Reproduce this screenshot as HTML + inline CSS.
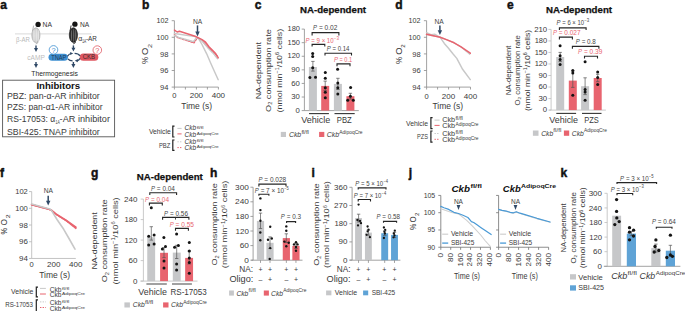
<!DOCTYPE html>
<html><head><meta charset="utf-8"><style>
html,body{margin:0;padding:0;background:#fff;}
body{width:685px;height:311px;overflow:hidden;}
svg{display:block;font-family:"Liberation Sans", sans-serif;}
</style></head><body>
<svg width="685" height="311" viewBox="0 0 685 311">
<rect width="685" height="311" fill="#fff"/>
<text x="0.3" y="8.8" font-size="12" fill="#111" font-weight="bold" stroke="#111" stroke-width="0.45">a</text>
<text x="141.9" y="8.8" font-size="12" fill="#111" font-weight="bold" stroke="#111" stroke-width="0.45">b</text>
<text x="254.7" y="9.3" font-size="12" fill="#111" font-weight="bold" stroke="#111" stroke-width="0.45">c</text>
<text x="395.2" y="8.9" font-size="12" fill="#111" font-weight="bold" stroke="#111" stroke-width="0.45">d</text>
<text x="506.9" y="9.1" font-size="12" fill="#111" font-weight="bold" stroke="#111" stroke-width="0.45">e</text>
<text x="0" y="176.7" font-size="12" fill="#111" font-weight="bold" stroke="#111" stroke-width="0.45">f</text>
<text x="91" y="176.6" font-size="12" fill="#111" font-weight="bold" stroke="#111" stroke-width="0.45">g</text>
<text x="210" y="177" font-size="12" fill="#111" font-weight="bold" stroke="#111" stroke-width="0.45">h</text>
<text x="311.6" y="177" font-size="12" fill="#111" font-weight="bold" stroke="#111" stroke-width="0.45">i</text>
<text x="408.8" y="176.8" font-size="12" fill="#111" font-weight="bold" stroke="#111" stroke-width="0.45">j</text>
<text x="560.6" y="176.8" font-size="12" fill="#111" font-weight="bold" stroke="#111" stroke-width="0.45">k</text>
<line x1="15" y1="33.9" x2="91.7" y2="33.9" stroke="#e1e1e1" stroke-width="1.3"/>
<path d="M33.6,25.6 L32.5,31.2" stroke="#a2a2a2" stroke-width="0.8" fill="none"/>
<ellipse cx="35.9" cy="35.2" rx="4.1" ry="7.4" fill="#cfcfcf" stroke="#a2a2a2" stroke-width="0.6"/>
<ellipse cx="34" cy="35.5" rx="0.55" ry="6" fill="#ececec"/>
<ellipse cx="36.2" cy="35.5" rx="0.55" ry="6.8" fill="#ececec"/>
<ellipse cx="38.2" cy="35.5" rx="0.55" ry="5.6" fill="#ececec"/>
<path d="M37.9,41.7 q0.6,1.6 -2.2,2.3" stroke="#a2a2a2" stroke-width="0.8" fill="none"/>
<circle cx="38.1" cy="24.4" r="2.65" fill="#151515"/>
<text x="42.6" y="27.1" font-size="6.4" fill="#333" textLength="9.4" lengthAdjust="spacingAndGlyphs">NA</text>
<text x="16.1" y="41.7" font-size="6.6" fill="#b9b9b9" textLength="13.9" lengthAdjust="spacingAndGlyphs">&#946;-AR</text>
<path d="M71.1,25.5 L70,31.1" stroke="#111" stroke-width="0.8" fill="none"/>
<ellipse cx="73.4" cy="35.1" rx="4.1" ry="7.4" fill="#2b2b2b" stroke="#111" stroke-width="0.6"/>
<ellipse cx="71.5" cy="35.4" rx="0.55" ry="6" fill="#6a6a6a"/>
<ellipse cx="73.7" cy="35.4" rx="0.55" ry="6.8" fill="#6a6a6a"/>
<ellipse cx="75.7" cy="35.4" rx="0.55" ry="5.6" fill="#6a6a6a"/>
<path d="M75.4,41.6 q0.6,1.6 -2.2,2.3" stroke="#111" stroke-width="0.8" fill="none"/>
<circle cx="74.9" cy="24.2" r="2.65" fill="#151515"/>
<text x="79.9" y="27.1" font-size="6.4" fill="#333" textLength="9.2" lengthAdjust="spacingAndGlyphs">NA</text>
<text x="78.3" y="41.2" font-size="6.6" fill="#333" textLength="4" lengthAdjust="spacingAndGlyphs">&#945;</text>
<text x="82.3" y="43.2" font-size="4.8" fill="#333" textLength="3.9" lengthAdjust="spacingAndGlyphs">1A</text>
<text x="86" y="41.2" font-size="6.6" fill="#333" textLength="10.9" lengthAdjust="spacingAndGlyphs">-AR</text>
<line x1="36" y1="45.4" x2="36" y2="48.6" stroke="#2f4866" stroke-width="1.4"/>
<path d="M34,48.1 L38,48.1 L36,52 Z" stroke="none" stroke-width="1" fill="#2f4866"/>
<line x1="36" y1="62" x2="36" y2="64.5" stroke="#2f4866" stroke-width="1.4"/>
<path d="M34,64 L38,64 L36,67.9 Z" stroke="none" stroke-width="1" fill="#2f4866"/>
<line x1="73.4" y1="45.4" x2="73.4" y2="48.2" stroke="#2f4866" stroke-width="1.4"/>
<path d="M71.4,47.7 L75.4,47.7 L73.4,51.6 Z" stroke="none" stroke-width="1" fill="#2f4866"/>
<line x1="73.4" y1="62" x2="73.4" y2="64.5" stroke="#2f4866" stroke-width="1.4"/>
<path d="M71.4,64 L75.4,64 L73.4,67.9 Z" stroke="none" stroke-width="1" fill="#2f4866"/>
<text x="27.3" y="60.1" font-size="6.4" fill="#bdbdbd" textLength="17.6" lengthAdjust="spacingAndGlyphs">cAMP</text>
<rect x="48.5" y="53.8" width="19.4" height="7" fill="#3d8fd1" rx="3.5"/>
<text x="51.3" y="59.6" font-size="6.3" fill="#233a55" textLength="15.1" lengthAdjust="spacingAndGlyphs">TNAP</text>
<circle cx="53.5" cy="49.9" r="4.3" fill="#fff" stroke="#3d8fd1" stroke-width="0.8"/>
<text x="53.5" y="52.6" font-size="7.4" fill="#3d8fd1" text-anchor="middle">?</text>
<rect x="79.7" y="53.4" width="18.6" height="7.4" fill="#e05862" rx="3.6"/>
<text x="82.8" y="59.4" font-size="6.3" fill="#3a2a2e" textLength="12.3" lengthAdjust="spacingAndGlyphs">CKB</text>
<circle cx="97.3" cy="50.1" r="4.3" fill="#fff" stroke="#e05862" stroke-width="0.8"/>
<text x="97.3" y="52.8" font-size="7.4" fill="#e05862" text-anchor="middle">?</text>
<path d="M67.4,56.4 Q69.0,53.7 71.0,53.5" stroke="#2f4866" stroke-width="1.2" fill="none"/>
<path d="M70.2,51.9 L73.2,53.5 L70.2,55.1 Z" stroke="none" stroke-width="1" fill="#2f4866"/>
<path d="M74.6,53.3 Q78.3,53.3 80.0,55.8" stroke="#2f4866" stroke-width="1.2" fill="none"/>
<path d="M80.1,58.4 Q78.8,60.6 76.9,60.7" stroke="#2f4866" stroke-width="1.2" fill="none"/>
<path d="M77.8,59.1 L74.8,60.7 L77.8,62.3 Z" stroke="none" stroke-width="1" fill="#2f4866"/>
<path d="M72.6,60.8 Q69.6,60.8 67.8,58.8" stroke="#2f4866" stroke-width="1.2" fill="none"/>
<text x="31.3" y="75.6" font-size="7.3" fill="#2a2a2a" textLength="46.6" lengthAdjust="spacingAndGlyphs">Thermogenesis</text>
<rect x="2.6" y="80.2" width="112" height="56.6" fill="none" stroke="#555" stroke-width="0.9"/>
<text x="36.4" y="89" font-size="9.3" fill="#111" font-weight="bold" textLength="43.8" lengthAdjust="spacingAndGlyphs">Inhibitors</text>
<text x="7" y="99.3" font-size="8.5" fill="#3a3a3a" textLength="92.8" lengthAdjust="spacingAndGlyphs">PBZ: pan-&#945;-AR inhibitor</text>
<text x="7" y="110.4" font-size="8.5" fill="#3a3a3a" textLength="95.6" lengthAdjust="spacingAndGlyphs">PZS: pan-&#945;1-AR inhibitor</text>
<text x="7" y="121.7" font-size="8.5" fill="#3a3a3a" textLength="48.2" lengthAdjust="spacingAndGlyphs">RS-17053: &#945;</text>
<text x="55.6" y="124.2" font-size="5.2" fill="#3a3a3a" textLength="4.2" lengthAdjust="spacingAndGlyphs">1A</text>
<text x="59.6" y="121.7" font-size="8.5" fill="#3a3a3a" textLength="50.4" lengthAdjust="spacingAndGlyphs">-AR inhibitor</text>
<text x="7" y="135" font-size="8.5" fill="#3a3a3a" textLength="92.7" lengthAdjust="spacingAndGlyphs">SBI-425: TNAP inhibitor</text>
<line x1="174.4" y1="20.7" x2="174.4" y2="87.1" stroke="#8a8a8a" stroke-width="0.8"/>
<line x1="174.4" y1="87.1" x2="218.4" y2="87.1" stroke="#8a8a8a" stroke-width="0.8"/>
<line x1="171.7" y1="20.7" x2="174.4" y2="20.7" stroke="#8a8a8a" stroke-width="0.8"/>
<text x="168.4" y="23.3" font-size="7.7" fill="#3a3a3a" text-anchor="end" textLength="12" lengthAdjust="spacingAndGlyphs">102</text>
<line x1="171.7" y1="37.3" x2="174.4" y2="37.3" stroke="#8a8a8a" stroke-width="0.8"/>
<text x="168.4" y="39.9" font-size="7.7" fill="#3a3a3a" text-anchor="end" textLength="12" lengthAdjust="spacingAndGlyphs">100</text>
<line x1="171.7" y1="53.9" x2="174.4" y2="53.9" stroke="#8a8a8a" stroke-width="0.8"/>
<text x="168.4" y="56.5" font-size="7.7" fill="#3a3a3a" text-anchor="end" textLength="8.4" lengthAdjust="spacingAndGlyphs">98</text>
<line x1="171.7" y1="70.5" x2="174.4" y2="70.5" stroke="#8a8a8a" stroke-width="0.8"/>
<text x="168.4" y="73.1" font-size="7.7" fill="#3a3a3a" text-anchor="end" textLength="8.4" lengthAdjust="spacingAndGlyphs">96</text>
<line x1="171.7" y1="87.1" x2="174.4" y2="87.1" stroke="#8a8a8a" stroke-width="0.8"/>
<text x="168.4" y="89.7" font-size="7.7" fill="#3a3a3a" text-anchor="end" textLength="8.4" lengthAdjust="spacingAndGlyphs">94</text>
<line x1="174.4" y1="87.1" x2="174.4" y2="89.5" stroke="#8a8a8a" stroke-width="0.8"/>
<line x1="185.4" y1="87.1" x2="185.4" y2="89.5" stroke="#8a8a8a" stroke-width="0.8"/>
<line x1="196.4" y1="87.1" x2="196.4" y2="89.5" stroke="#8a8a8a" stroke-width="0.8"/>
<line x1="207.4" y1="87.1" x2="207.4" y2="89.5" stroke="#8a8a8a" stroke-width="0.8"/>
<line x1="218.4" y1="87.1" x2="218.4" y2="89.5" stroke="#8a8a8a" stroke-width="0.8"/>
<text x="174.4" y="98.4" font-size="7.8" fill="#3a3a3a" text-anchor="middle" textLength="4.2" lengthAdjust="spacingAndGlyphs">0</text>
<text x="196.4" y="98.4" font-size="7.8" fill="#3a3a3a" text-anchor="middle" textLength="13.4" lengthAdjust="spacingAndGlyphs">200</text>
<text x="218.4" y="98.4" font-size="7.8" fill="#3a3a3a" text-anchor="middle" textLength="13.4" lengthAdjust="spacingAndGlyphs">400</text>
<text x="181.3" y="108.9" font-size="8.6" fill="#3a3a3a" textLength="30.8" lengthAdjust="spacingAndGlyphs">Time (s)</text>
<text font-size="9.3" fill="#3a3a3a" transform="translate(148.1 63.6) rotate(-90)" x="-0.3" y="0" textLength="7.1" lengthAdjust="spacingAndGlyphs">%</text>
<text font-size="9.3" fill="#3a3a3a" transform="translate(148.1 54.6) rotate(-90)" x="-0.3" y="0" textLength="7.3" lengthAdjust="spacingAndGlyphs">O</text>
<text font-size="5.77" fill="#3a3a3a" transform="translate(152 47.7) rotate(-90)" x="-0.3" y="0" textLength="4" lengthAdjust="spacingAndGlyphs">2</text>
<line x1="197.5" y1="25.4" x2="197.5" y2="32.1" stroke="#2f4866" stroke-width="1.5"/>
<path d="M195.3,31.6 L199.7,31.6 L197.5,36.4 Z" stroke="none" stroke-width="1" fill="#2f4866"/>
<text x="193" y="23.9" font-size="6.4" fill="#444" textLength="9.3" lengthAdjust="spacingAndGlyphs">NA</text>
<polyline points="174.5,33.5 195.1,36.6 198,37.6 202,44.5 206.7,53.8 210.2,62 214,70.5 218.2,79.7" fill="none" stroke="#c8c8c8" stroke-width="1.45" stroke-linejoin="round" stroke-linecap="round"/>
<polyline points="174.5,34.7 177.8,37.6 194,42.8 195.1,41 198,37.6 202,40.5 209,48 212.5,50.9 217.1,56" fill="none" stroke="#e8646f" stroke-width="1.4" stroke-linejoin="round" stroke-linecap="round" stroke-dasharray="1.6 1.4"/>
<polyline points="174.5,35.3 179,37.6 193.4,41.6 195.7,38.7 198,37.6 202,41 209,49.1 213.7,53.8 217.7,59" fill="none" stroke="#c8c8c8" stroke-width="1.4" stroke-linejoin="round" stroke-linecap="round" stroke-dasharray="1.8 1.0"/>
<polyline points="174.5,30.1 177.2,32 179.5,31.2 195.1,36.2 198,37.6 202.1,39.7 205.6,42.2 209,46.8 212,49.7 215.4,53.2 218.3,57.8" fill="none" stroke="#e8646f" stroke-width="1.5" stroke-linejoin="round" stroke-linecap="round"/>
<text x="148.9" y="133.9" font-size="6.6" fill="#3a3a3a" textLength="21.8" lengthAdjust="spacingAndGlyphs">Vehicle</text>
<text x="158.9" y="147.5" font-size="6.6" fill="#3a3a3a" textLength="11.3" lengthAdjust="spacingAndGlyphs">PBZ</text>
<path d="M174.5,126.2 H172.8 V137 H174.5" stroke="#222" stroke-width="1.2" fill="none"/>
<path d="M174.5,140 H172.8 V150.4 H174.5" stroke="#222" stroke-width="1.2" fill="none"/>
<line x1="177.4" y1="128.4" x2="181.6" y2="128.4" stroke="#c9c9c9" stroke-width="1"/>
<line x1="177.4" y1="133.9" x2="181.6" y2="133.9" stroke="#e8646f" stroke-width="1"/>
<line x1="177.4" y1="141.8" x2="181.6" y2="141.8" stroke="#c9c9c9" stroke-width="1" stroke-dasharray="1.4 1.2"/>
<line x1="177.4" y1="147.6" x2="181.6" y2="147.6" stroke="#e8646f" stroke-width="1" stroke-dasharray="1.4 1.2"/>
<text x="184.6" y="130.3" font-size="7.2" fill="#3a3a3a" font-style="italic" textLength="11.6" lengthAdjust="spacingAndGlyphs">Ckb</text>
<text x="196.7" y="128.6" font-size="4.4" fill="#3a3a3a" textLength="6.8" lengthAdjust="spacingAndGlyphs">fl/fl</text>
<text x="184.6" y="136.5" font-size="7.2" fill="#3a3a3a" font-style="italic" textLength="11.6" lengthAdjust="spacingAndGlyphs">Ckb</text>
<text x="196.7" y="134.8" font-size="4.4" fill="#3a3a3a" textLength="22" lengthAdjust="spacingAndGlyphs">AdipoqCre</text>
<text x="184.6" y="143.8" font-size="7.2" fill="#3a3a3a" font-style="italic" textLength="11.6" lengthAdjust="spacingAndGlyphs">Ckb</text>
<text x="196.7" y="142.1" font-size="4.4" fill="#3a3a3a" textLength="6.8" lengthAdjust="spacingAndGlyphs">fl/fl</text>
<text x="184.6" y="150" font-size="7.2" fill="#3a3a3a" font-style="italic" textLength="11.6" lengthAdjust="spacingAndGlyphs">Ckb</text>
<text x="196.7" y="148.3" font-size="4.4" fill="#3a3a3a" textLength="22" lengthAdjust="spacingAndGlyphs">AdipoqCre</text>
<line x1="426.6" y1="20.7" x2="426.6" y2="87.1" stroke="#8a8a8a" stroke-width="0.8"/>
<line x1="426.6" y1="87.1" x2="470.5" y2="87.1" stroke="#8a8a8a" stroke-width="0.8"/>
<line x1="423.9" y1="20.7" x2="426.6" y2="20.7" stroke="#8a8a8a" stroke-width="0.8"/>
<text x="420.6" y="23.3" font-size="7.7" fill="#3a3a3a" text-anchor="end" textLength="12" lengthAdjust="spacingAndGlyphs">102</text>
<line x1="423.9" y1="37.3" x2="426.6" y2="37.3" stroke="#8a8a8a" stroke-width="0.8"/>
<text x="420.6" y="39.9" font-size="7.7" fill="#3a3a3a" text-anchor="end" textLength="12" lengthAdjust="spacingAndGlyphs">100</text>
<line x1="423.9" y1="53.9" x2="426.6" y2="53.9" stroke="#8a8a8a" stroke-width="0.8"/>
<text x="420.6" y="56.5" font-size="7.7" fill="#3a3a3a" text-anchor="end" textLength="8.4" lengthAdjust="spacingAndGlyphs">98</text>
<line x1="423.9" y1="70.5" x2="426.6" y2="70.5" stroke="#8a8a8a" stroke-width="0.8"/>
<text x="420.6" y="73.1" font-size="7.7" fill="#3a3a3a" text-anchor="end" textLength="8.4" lengthAdjust="spacingAndGlyphs">96</text>
<line x1="423.9" y1="87.1" x2="426.6" y2="87.1" stroke="#8a8a8a" stroke-width="0.8"/>
<text x="420.6" y="89.7" font-size="7.7" fill="#3a3a3a" text-anchor="end" textLength="8.4" lengthAdjust="spacingAndGlyphs">94</text>
<line x1="426.6" y1="87.1" x2="426.6" y2="89.5" stroke="#8a8a8a" stroke-width="0.8"/>
<line x1="437.58" y1="87.1" x2="437.58" y2="89.5" stroke="#8a8a8a" stroke-width="0.8"/>
<line x1="448.55" y1="87.1" x2="448.55" y2="89.5" stroke="#8a8a8a" stroke-width="0.8"/>
<line x1="459.52" y1="87.1" x2="459.52" y2="89.5" stroke="#8a8a8a" stroke-width="0.8"/>
<line x1="470.5" y1="87.1" x2="470.5" y2="89.5" stroke="#8a8a8a" stroke-width="0.8"/>
<text x="426.6" y="98.9" font-size="7.8" fill="#3a3a3a" text-anchor="middle" textLength="4.2" lengthAdjust="spacingAndGlyphs">0</text>
<text x="448.55" y="98.9" font-size="7.8" fill="#3a3a3a" text-anchor="middle" textLength="13.4" lengthAdjust="spacingAndGlyphs">200</text>
<text x="470.5" y="98.9" font-size="7.8" fill="#3a3a3a" text-anchor="middle" textLength="13.4" lengthAdjust="spacingAndGlyphs">400</text>
<text x="432.4" y="108.9" font-size="8.6" fill="#3a3a3a" textLength="30.8" lengthAdjust="spacingAndGlyphs">Time (s)</text>
<text font-size="9.3" fill="#3a3a3a" transform="translate(401.9 63.6) rotate(-90)" x="-0.3" y="0" textLength="7.1" lengthAdjust="spacingAndGlyphs">%</text>
<text font-size="9.3" fill="#3a3a3a" transform="translate(401.9 54.4) rotate(-90)" x="-0.3" y="0" textLength="7.3" lengthAdjust="spacingAndGlyphs">O</text>
<text font-size="5.77" fill="#3a3a3a" transform="translate(405.4 47.4) rotate(-90)" x="-0.3" y="0" textLength="3.4" lengthAdjust="spacingAndGlyphs">2</text>
<line x1="439.9" y1="25.4" x2="439.9" y2="30.7" stroke="#2f4866" stroke-width="1.5"/>
<path d="M437.7,30.2 L442.1,30.2 L439.9,35 Z" stroke="none" stroke-width="1" fill="#2f4866"/>
<text x="434.4" y="23.9" font-size="6.4" fill="#444" textLength="9.3" lengthAdjust="spacingAndGlyphs">NA</text>
<polyline points="426.5,32.7 431,34.7 435,34.3 440.2,37.3 444.3,43.4 448.3,48 452.9,53.8 456.8,58.4 462.6,69.3 470.3,79.6" fill="none" stroke="#c8c8c8" stroke-width="1.45" stroke-linejoin="round" stroke-linecap="round"/>
<polyline points="426.5,34.3 440.2,37.3 447.1,39.9 454.1,42.8 461,46.8 470.3,54.6" fill="none" stroke="#c8c8c8" stroke-width="1.4" stroke-linejoin="round" stroke-linecap="round" stroke-dasharray="2.2 1.1"/>
<polyline points="426.5,34.3 440.2,37.3 447.1,39.9 454.1,42.8 461,46.8 470.3,53.2" fill="none" stroke="#e8646f" stroke-width="1.5" stroke-linejoin="round" stroke-linecap="round"/>
<text x="406" y="125.7" font-size="7.4" fill="#3a3a3a" textLength="22" lengthAdjust="spacingAndGlyphs">Vehicle</text>
<text x="417" y="138.6" font-size="7.4" fill="#3a3a3a" textLength="11" lengthAdjust="spacingAndGlyphs">PZS</text>
<path d="M432.6,117.7 H430.9 V128.7 H432.6" stroke="#222" stroke-width="1.2" fill="none"/>
<path d="M432.6,131 H430.9 V142.2 H432.6" stroke="#222" stroke-width="1.2" fill="none"/>
<line x1="434.5" y1="120.1" x2="439.6" y2="120.1" stroke="#c9c9c9" stroke-width="1"/>
<line x1="434.5" y1="125.4" x2="439.6" y2="125.4" stroke="#e8646f" stroke-width="1"/>
<line x1="434.5" y1="133.5" x2="439.6" y2="133.5" stroke="#c9c9c9" stroke-width="1" stroke-dasharray="1.4 1.2"/>
<line x1="434.5" y1="139.3" x2="439.6" y2="139.3" stroke="#e8646f" stroke-width="1" stroke-dasharray="1.4 1.2"/>
<text x="442.2" y="121.8" font-size="8" fill="#3a3a3a" textLength="12.8" lengthAdjust="spacingAndGlyphs">Ckb</text>
<text x="455.5" y="119.81" font-size="4.8" fill="#3a3a3a" textLength="7.4" lengthAdjust="spacingAndGlyphs">fl/fl</text>
<text x="442.2" y="128" font-size="8" fill="#3a3a3a" textLength="12.8" lengthAdjust="spacingAndGlyphs">Ckb</text>
<text x="455.5" y="126.01" font-size="4.8" fill="#3a3a3a" textLength="23" lengthAdjust="spacingAndGlyphs">AdipoqCre</text>
<text x="442.2" y="135.5" font-size="8" fill="#3a3a3a" textLength="12.8" lengthAdjust="spacingAndGlyphs">Ckb</text>
<text x="455.5" y="133.51" font-size="4.8" fill="#3a3a3a" textLength="7.4" lengthAdjust="spacingAndGlyphs">fl/fl</text>
<text x="442.2" y="142.2" font-size="8" fill="#3a3a3a" textLength="12.8" lengthAdjust="spacingAndGlyphs">Ckb</text>
<text x="455.5" y="140.21" font-size="4.8" fill="#3a3a3a" textLength="23" lengthAdjust="spacingAndGlyphs">AdipoqCre</text>
<line x1="31.7" y1="191.58" x2="31.7" y2="258.46" stroke="#b5b5b5" stroke-width="0.8"/>
<line x1="31.7" y1="258.46" x2="75.8" y2="258.46" stroke="#b5b5b5" stroke-width="0.8"/>
<line x1="29" y1="191.58" x2="31.7" y2="191.58" stroke="#b5b5b5" stroke-width="0.8"/>
<text x="27.8" y="194.18" font-size="7.7" fill="#3a3a3a" text-anchor="end" textLength="12.6" lengthAdjust="spacingAndGlyphs">102</text>
<line x1="29" y1="208.3" x2="31.7" y2="208.3" stroke="#b5b5b5" stroke-width="0.8"/>
<text x="27.8" y="210.9" font-size="7.7" fill="#3a3a3a" text-anchor="end" textLength="12.6" lengthAdjust="spacingAndGlyphs">100</text>
<line x1="29" y1="225.02" x2="31.7" y2="225.02" stroke="#b5b5b5" stroke-width="0.8"/>
<text x="27.8" y="227.62" font-size="7.7" fill="#3a3a3a" text-anchor="end" textLength="8.8" lengthAdjust="spacingAndGlyphs">98</text>
<line x1="29" y1="241.74" x2="31.7" y2="241.74" stroke="#b5b5b5" stroke-width="0.8"/>
<text x="27.8" y="244.34" font-size="7.7" fill="#3a3a3a" text-anchor="end" textLength="8.8" lengthAdjust="spacingAndGlyphs">96</text>
<line x1="29" y1="258.46" x2="31.7" y2="258.46" stroke="#b5b5b5" stroke-width="0.8"/>
<text x="27.8" y="261.06" font-size="7.7" fill="#3a3a3a" text-anchor="end" textLength="8.8" lengthAdjust="spacingAndGlyphs">94</text>
<text x="31.7" y="266.6" font-size="7.8" fill="#3a3a3a" text-anchor="middle" textLength="4.2" lengthAdjust="spacingAndGlyphs">0</text>
<text x="53.75" y="266.6" font-size="7.8" fill="#3a3a3a" text-anchor="middle" textLength="13.4" lengthAdjust="spacingAndGlyphs">200</text>
<text x="75.8" y="266.6" font-size="7.8" fill="#3a3a3a" text-anchor="middle" textLength="13.4" lengthAdjust="spacingAndGlyphs">400</text>
<text x="39.2" y="278" font-size="8.6" fill="#3a3a3a" textLength="30.8" lengthAdjust="spacingAndGlyphs">Time (s)</text>
<text font-size="9.3" fill="#3a3a3a" transform="translate(7.3 234.1) rotate(-90)" x="-0.3" y="0" textLength="6.5" lengthAdjust="spacingAndGlyphs">%</text>
<text font-size="9.3" fill="#3a3a3a" transform="translate(7.3 225.1) rotate(-90)" x="-0.3" y="0" textLength="6.5" lengthAdjust="spacingAndGlyphs">O</text>
<text font-size="5.77" fill="#3a3a3a" transform="translate(9.5 217.9) rotate(-90)" x="-0.3" y="0" textLength="3.8" lengthAdjust="spacingAndGlyphs">2</text>
<line x1="48.2" y1="195.7" x2="48.2" y2="201.3" stroke="#2f4866" stroke-width="1.5"/>
<path d="M46,200.8 L50.4,200.8 L48.2,205.6 Z" stroke="none" stroke-width="1" fill="#2f4866"/>
<text x="43.8" y="193.3" font-size="6.4" fill="#444" textLength="9.3" lengthAdjust="spacingAndGlyphs">NA</text>
<polyline points="31.6,204.6 49,209.3 51.6,210.4 56.8,214.8 66,220.5 75.9,228.4" fill="none" stroke="#e8646f" stroke-width="1.5" stroke-linejoin="round" stroke-linecap="round" stroke-dasharray="2.2 1.1"/>
<polyline points="31.6,204.6 49,209.3 51.6,210.4 56.8,214.6 66,220.2 75.9,227.2" fill="none" stroke="#e8646f" stroke-width="1.7" stroke-linejoin="round" stroke-linecap="round"/>
<polyline points="31.6,203.9 49.8,208.9 51.6,210.6 57,219.5 63.7,229.3 69,238.5 75,249.2" fill="none" stroke="#c8c8c8" stroke-width="1.6" stroke-linejoin="round" stroke-linecap="round"/>
<text x="11.1" y="293.5" font-size="6.4" fill="#3a3a3a" textLength="22.2" lengthAdjust="spacingAndGlyphs">Vehicle</text>
<text x="5.2" y="306.5" font-size="6.4" fill="#3a3a3a" textLength="27.7" lengthAdjust="spacingAndGlyphs">RS-17053</text>
<path d="M38,287.2 H36.3 V296.8 H38" stroke="#222" stroke-width="1.2" fill="none"/>
<path d="M38,299.8 H36.3 V311.5 H38" stroke="#222" stroke-width="1.2" fill="none"/>
<line x1="40" y1="288.4" x2="45.9" y2="288.4" stroke="#c9c9c9" stroke-width="1"/>
<line x1="40" y1="294" x2="45.9" y2="294" stroke="#e8646f" stroke-width="1"/>
<line x1="40" y1="301.9" x2="45.9" y2="301.9" stroke="#c9c9c9" stroke-width="1" stroke-dasharray="1.4 1.2"/>
<line x1="40" y1="307.5" x2="45.9" y2="307.5" stroke="#e8646f" stroke-width="1" stroke-dasharray="1.4 1.2"/>
<text x="49.8" y="291.6" font-size="7" fill="#3a3a3a" textLength="11.7" lengthAdjust="spacingAndGlyphs">Ckb</text>
<text x="62" y="289.97" font-size="4.3" fill="#3a3a3a" textLength="7.2" lengthAdjust="spacingAndGlyphs">fl/fl</text>
<text x="49.8" y="296.6" font-size="7" fill="#3a3a3a" textLength="11.7" lengthAdjust="spacingAndGlyphs">Ckb</text>
<text x="62" y="294.97" font-size="4.3" fill="#3a3a3a" textLength="23" lengthAdjust="spacingAndGlyphs">AdipoqCre</text>
<text x="49.8" y="305.1" font-size="7" fill="#3a3a3a" textLength="11.7" lengthAdjust="spacingAndGlyphs">Ckb</text>
<text x="62" y="303.47" font-size="4.3" fill="#3a3a3a" textLength="7.2" lengthAdjust="spacingAndGlyphs">fl/fl</text>
<text x="49.8" y="310.5" font-size="7" fill="#3a3a3a" textLength="11.7" lengthAdjust="spacingAndGlyphs">Ckb</text>
<text x="62" y="308.87" font-size="4.3" fill="#3a3a3a" textLength="23" lengthAdjust="spacingAndGlyphs">AdipoqCre</text>
<text x="300" y="13.1" font-size="9.2" fill="#111" font-weight="bold" textLength="66" lengthAdjust="spacingAndGlyphs" stroke="#111" stroke-width="0.25">NA-dependent</text>
<line x1="304.4" y1="29.1" x2="304.4" y2="110.6" stroke="#8a8a8a" stroke-width="0.8"/>
<line x1="301.7" y1="110.6" x2="304.4" y2="110.6" stroke="#8a8a8a" stroke-width="0.8"/>
<text x="299.9" y="112.7" font-size="7.8" fill="#3a3a3a" text-anchor="end" textLength="4.3" lengthAdjust="spacingAndGlyphs">0</text>
<line x1="301.7" y1="97.02" x2="304.4" y2="97.02" stroke="#8a8a8a" stroke-width="0.8"/>
<text x="299.9" y="99.12" font-size="7.8" fill="#3a3a3a" text-anchor="end" textLength="8.6" lengthAdjust="spacingAndGlyphs">30</text>
<line x1="301.7" y1="83.43" x2="304.4" y2="83.43" stroke="#8a8a8a" stroke-width="0.8"/>
<text x="299.9" y="85.53" font-size="7.8" fill="#3a3a3a" text-anchor="end" textLength="8.6" lengthAdjust="spacingAndGlyphs">60</text>
<line x1="301.7" y1="69.85" x2="304.4" y2="69.85" stroke="#8a8a8a" stroke-width="0.8"/>
<text x="299.9" y="71.95" font-size="7.8" fill="#3a3a3a" text-anchor="end" textLength="8.6" lengthAdjust="spacingAndGlyphs">90</text>
<line x1="301.7" y1="56.26" x2="304.4" y2="56.26" stroke="#8a8a8a" stroke-width="0.8"/>
<text x="299.9" y="58.36" font-size="7.8" fill="#3a3a3a" text-anchor="end" textLength="12.4" lengthAdjust="spacingAndGlyphs">120</text>
<line x1="301.7" y1="42.68" x2="304.4" y2="42.68" stroke="#8a8a8a" stroke-width="0.8"/>
<text x="299.9" y="44.78" font-size="7.8" fill="#3a3a3a" text-anchor="end" textLength="12.4" lengthAdjust="spacingAndGlyphs">150</text>
<line x1="301.7" y1="29.1" x2="304.4" y2="29.1" stroke="#8a8a8a" stroke-width="0.8"/>
<text x="299.9" y="31.2" font-size="7.8" fill="#3a3a3a" text-anchor="end" textLength="12.4" lengthAdjust="spacingAndGlyphs">180</text>
<line x1="304.4" y1="110.6" x2="358.8" y2="110.6" stroke="#8a8a8a" stroke-width="0.8"/>
<rect x="308.9" y="67" width="8" height="43.6" fill="#c6c7c9"/>
<rect x="321.2" y="85.9" width="8" height="24.7" fill="#e8646f"/>
<rect x="333.9" y="83.9" width="8" height="26.7" fill="#c6c7c9"/>
<rect x="346.4" y="96.2" width="8" height="14.4" fill="#e8646f"/>
<line x1="312.9" y1="61.4" x2="312.9" y2="71.1" stroke="#555" stroke-width="0.7"/>
<line x1="311.2" y1="61.4" x2="314.6" y2="61.4" stroke="#555" stroke-width="0.7"/>
<line x1="311.2" y1="71.1" x2="314.6" y2="71.1" stroke="#555" stroke-width="0.7"/>
<line x1="325.2" y1="81.1" x2="325.2" y2="90.6" stroke="#555" stroke-width="0.7"/>
<line x1="323.5" y1="81.1" x2="326.9" y2="81.1" stroke="#555" stroke-width="0.7"/>
<line x1="323.5" y1="90.6" x2="326.9" y2="90.6" stroke="#555" stroke-width="0.7"/>
<line x1="337.9" y1="78.3" x2="337.9" y2="89.5" stroke="#555" stroke-width="0.7"/>
<line x1="336.2" y1="78.3" x2="339.6" y2="78.3" stroke="#555" stroke-width="0.7"/>
<line x1="336.2" y1="89.5" x2="339.6" y2="89.5" stroke="#555" stroke-width="0.7"/>
<line x1="350.4" y1="93.3" x2="350.4" y2="99.1" stroke="#555" stroke-width="0.7"/>
<line x1="348.7" y1="93.3" x2="352.1" y2="93.3" stroke="#555" stroke-width="0.7"/>
<line x1="348.7" y1="99.1" x2="352.1" y2="99.1" stroke="#555" stroke-width="0.7"/>
<circle cx="312.7" cy="53.4" r="1.5" fill="#141414"/>
<circle cx="312.7" cy="56.5" r="1.5" fill="#141414"/>
<circle cx="312.7" cy="67.7" r="1.5" fill="#141414"/>
<circle cx="309.9" cy="77.6" r="1.5" fill="#141414"/>
<circle cx="315.5" cy="77.3" r="1.5" fill="#141414"/>
<circle cx="325.3" cy="72.4" r="1.5" fill="#141414"/>
<circle cx="325.3" cy="78.3" r="1.5" fill="#141414"/>
<circle cx="325.3" cy="87.7" r="1.5" fill="#141414"/>
<circle cx="325.3" cy="92.3" r="1.5" fill="#141414"/>
<circle cx="325.3" cy="97.8" r="1.5" fill="#141414"/>
<circle cx="337.6" cy="69.3" r="1.5" fill="#141414"/>
<circle cx="337.8" cy="83" r="1.5" fill="#141414"/>
<circle cx="337.8" cy="87.7" r="1.5" fill="#141414"/>
<circle cx="337.8" cy="94" r="1.5" fill="#141414"/>
<circle cx="350.6" cy="87.6" r="1.5" fill="#141414"/>
<circle cx="350.4" cy="96.2" r="1.5" fill="#141414"/>
<circle cx="347.7" cy="100.3" r="1.5" fill="#141414"/>
<circle cx="353.3" cy="100.3" r="1.5" fill="#141414"/>
<line x1="309" y1="113.6" x2="328.9" y2="113.6" stroke="#333" stroke-width="1.1"/>
<line x1="334.5" y1="113.6" x2="354.7" y2="113.6" stroke="#333" stroke-width="1.1"/>
<text x="301.2" y="123.4" font-size="8.4" fill="#3a3a3a" textLength="29.2" lengthAdjust="spacingAndGlyphs">Vehicle</text>
<text x="336.8" y="123.4" font-size="8.4" fill="#3a3a3a" textLength="14.9" lengthAdjust="spacingAndGlyphs">PBZ</text>
<rect x="280.8" y="131.9" width="5.2" height="5.1" fill="#c6c7c9"/>
<rect x="319.1" y="131.9" width="5.2" height="5.1" fill="#e8646f"/>
<text x="288.9" y="137" font-size="7.6" fill="#3a3a3a" font-style="italic" textLength="12.31" lengthAdjust="spacingAndGlyphs">Ckb</text>
<text x="301.41" y="133.7" font-size="5.02" fill="#3a3a3a" textLength="7.49" lengthAdjust="spacingAndGlyphs">fl/fl</text>
<text x="326.8" y="137" font-size="7.6" fill="#3a3a3a" font-style="italic" textLength="12.31" lengthAdjust="spacingAndGlyphs">Ckb</text>
<text x="339.31" y="133.7" font-size="5.02" fill="#3a3a3a" textLength="23.29" lengthAdjust="spacingAndGlyphs">AdipoqCre</text>
<text x="313" y="30.3" font-size="6.6" fill="#444" font-style="italic" textLength="3.96" lengthAdjust="spacingAndGlyphs">P</text>
<text x="317.09" y="30.3" font-size="6.6" fill="#444" textLength="20.31" lengthAdjust="spacingAndGlyphs">&#160;=&#160;0.02</text>
<path d="M312.1,35.4 V32.6 H338.9 V35.4" stroke="#262626" stroke-width="1.1" fill="none"/>
<text x="305.6" y="42.7" font-size="6.6" fill="#e8646f" font-style="italic" textLength="3.96" lengthAdjust="spacingAndGlyphs">P</text>
<text x="309.69" y="42.7" font-size="6.6" fill="#e8646f" textLength="23.91" lengthAdjust="spacingAndGlyphs">&#160;=&#160;9&#160;&#215;&#160;10</text>
<text x="333.8" y="39.5" font-size="4.49" fill="#e8646f" textLength="5.2" lengthAdjust="spacingAndGlyphs">&#8722;3</text>
<path d="M312.1,46.6 V44.4 H324.8 V46.6" stroke="#262626" stroke-width="1.1" fill="none"/>
<text x="326.8" y="50.9" font-size="6.6" fill="#444" font-style="italic" textLength="3.96" lengthAdjust="spacingAndGlyphs">P</text>
<text x="330.89" y="50.9" font-size="6.6" fill="#444" textLength="18.51" lengthAdjust="spacingAndGlyphs">&#160;=&#160;0.14</text>
<path d="M325,55.4 V53.2 H351.5 V55.4" stroke="#262626" stroke-width="1.1" fill="none"/>
<text x="333.9" y="61.8" font-size="6.6" fill="#e8646f" font-style="italic" textLength="3.96" lengthAdjust="spacingAndGlyphs">P</text>
<text x="337.99" y="61.8" font-size="6.6" fill="#e8646f" textLength="14.11" lengthAdjust="spacingAndGlyphs">&#160;=&#160;0.1</text>
<path d="M337,66.3 V63.9 H350 V66.3" stroke="#262626" stroke-width="1.1" fill="none"/>
<text x="260.9" y="70.6" font-size="7.9" fill="#3a3a3a" text-anchor="middle" transform="rotate(-90 260.9 70.6)" textLength="57.4" lengthAdjust="spacingAndGlyphs">NA-dependent</text>
<text font-size="7.9" fill="#3a3a3a" text-anchor="middle" transform="translate(270.8 70.6) rotate(-90)" textLength="82.7" lengthAdjust="spacingAndGlyphs">O<tspan font-size="4.9" dy="1.6">2</tspan><tspan dy="-1.6"> consumption rate</tspan></text>
<text font-size="8" fill="#3a3a3a" text-anchor="middle" transform="translate(281.9 70.6) rotate(-90)" textLength="83.6" lengthAdjust="spacingAndGlyphs">(nmol min<tspan font-size="4.96" dy="-2.6">&#8722;1</tspan><tspan dy="2.6">/10</tspan><tspan font-size="4.96" dy="-2.6">6</tspan><tspan dy="2.6"> cells)</tspan></text>
<text x="546" y="13.1" font-size="9.2" fill="#111" font-weight="bold" textLength="66" lengthAdjust="spacingAndGlyphs" stroke="#111" stroke-width="0.25">NA-dependent</text>
<line x1="551.1" y1="29.4" x2="551.1" y2="110.1" stroke="#bdbdbd" stroke-width="0.8"/>
<line x1="548.4" y1="110.1" x2="551.1" y2="110.1" stroke="#bdbdbd" stroke-width="0.8"/>
<text x="547.2" y="112.4" font-size="7.8" fill="#3a3a3a" text-anchor="end" textLength="4.35" lengthAdjust="spacingAndGlyphs">0</text>
<line x1="548.4" y1="98.57" x2="551.1" y2="98.57" stroke="#bdbdbd" stroke-width="0.8"/>
<text x="547.2" y="100.87" font-size="7.8" fill="#3a3a3a" text-anchor="end" textLength="8.7" lengthAdjust="spacingAndGlyphs">30</text>
<line x1="548.4" y1="87.04" x2="551.1" y2="87.04" stroke="#bdbdbd" stroke-width="0.8"/>
<text x="547.2" y="89.34" font-size="7.8" fill="#3a3a3a" text-anchor="end" textLength="8.7" lengthAdjust="spacingAndGlyphs">60</text>
<line x1="548.4" y1="75.51" x2="551.1" y2="75.51" stroke="#bdbdbd" stroke-width="0.8"/>
<text x="547.2" y="77.81" font-size="7.8" fill="#3a3a3a" text-anchor="end" textLength="8.7" lengthAdjust="spacingAndGlyphs">90</text>
<line x1="548.4" y1="63.98" x2="551.1" y2="63.98" stroke="#bdbdbd" stroke-width="0.8"/>
<text x="547.2" y="66.28" font-size="7.8" fill="#3a3a3a" text-anchor="end" textLength="12.55" lengthAdjust="spacingAndGlyphs">120</text>
<line x1="548.4" y1="52.45" x2="551.1" y2="52.45" stroke="#bdbdbd" stroke-width="0.8"/>
<text x="547.2" y="54.75" font-size="7.8" fill="#3a3a3a" text-anchor="end" textLength="12.55" lengthAdjust="spacingAndGlyphs">150</text>
<line x1="548.4" y1="40.93" x2="551.1" y2="40.93" stroke="#bdbdbd" stroke-width="0.8"/>
<text x="547.2" y="43.23" font-size="7.8" fill="#3a3a3a" text-anchor="end" textLength="12.55" lengthAdjust="spacingAndGlyphs">180</text>
<line x1="548.4" y1="29.4" x2="551.1" y2="29.4" stroke="#bdbdbd" stroke-width="0.8"/>
<text x="547.2" y="31.7" font-size="7.8" fill="#3a3a3a" text-anchor="end" textLength="13.05" lengthAdjust="spacingAndGlyphs">210</text>
<line x1="549.3" y1="110.1" x2="605.9" y2="110.1" stroke="#bdbdbd" stroke-width="0.8"/>
<rect x="556.2" y="57" width="8" height="53.1" fill="#c6c7c9"/>
<rect x="568.8" y="80.6" width="8" height="29.5" fill="#e8646f"/>
<rect x="581.1" y="86.2" width="8" height="23.9" fill="#c6c7c9"/>
<rect x="593.7" y="78" width="8" height="32.1" fill="#e8646f"/>
<line x1="560.2" y1="52.4" x2="560.2" y2="61.6" stroke="#555" stroke-width="0.7"/>
<line x1="558.5" y1="52.4" x2="561.9" y2="52.4" stroke="#555" stroke-width="0.7"/>
<line x1="558.5" y1="61.6" x2="561.9" y2="61.6" stroke="#555" stroke-width="0.7"/>
<line x1="572.8" y1="71" x2="572.8" y2="87.4" stroke="#555" stroke-width="0.7"/>
<line x1="571.1" y1="71" x2="574.5" y2="71" stroke="#555" stroke-width="0.7"/>
<line x1="571.1" y1="87.4" x2="574.5" y2="87.4" stroke="#555" stroke-width="0.7"/>
<line x1="585.1" y1="77.8" x2="585.1" y2="94.6" stroke="#555" stroke-width="0.7"/>
<line x1="583.4" y1="77.8" x2="586.8" y2="77.8" stroke="#555" stroke-width="0.7"/>
<line x1="583.4" y1="94.6" x2="586.8" y2="94.6" stroke="#555" stroke-width="0.7"/>
<line x1="597.7" y1="74.3" x2="597.7" y2="81.7" stroke="#555" stroke-width="0.7"/>
<line x1="596" y1="74.3" x2="599.4" y2="74.3" stroke="#555" stroke-width="0.7"/>
<line x1="596" y1="81.7" x2="599.4" y2="81.7" stroke="#555" stroke-width="0.7"/>
<circle cx="560.1" cy="45.7" r="1.5" fill="#141414"/>
<circle cx="560.1" cy="55.8" r="1.5" fill="#141414"/>
<circle cx="560.1" cy="59.6" r="1.5" fill="#141414"/>
<circle cx="560.1" cy="64.6" r="1.5" fill="#141414"/>
<circle cx="572.8" cy="70.5" r="1.5" fill="#141414"/>
<circle cx="572.8" cy="73" r="1.5" fill="#141414"/>
<circle cx="572.8" cy="95.3" r="1.5" fill="#141414"/>
<circle cx="585.1" cy="61.8" r="1.5" fill="#141414"/>
<circle cx="585.1" cy="89.5" r="1.5" fill="#141414"/>
<circle cx="585.1" cy="92" r="1.5" fill="#141414"/>
<circle cx="585.1" cy="100.3" r="1.5" fill="#141414"/>
<circle cx="597.7" cy="72" r="1.5" fill="#141414"/>
<circle cx="597.7" cy="77.5" r="1.5" fill="#141414"/>
<circle cx="597.7" cy="84.6" r="1.5" fill="#141414"/>
<line x1="556.3" y1="113.4" x2="576.1" y2="113.4" stroke="#333" stroke-width="1.1"/>
<line x1="582" y1="113.4" x2="601.5" y2="113.4" stroke="#333" stroke-width="1.1"/>
<text x="549.2" y="123.4" font-size="8.6" fill="#3a3a3a" textLength="28.9" lengthAdjust="spacingAndGlyphs">Vehicle</text>
<text x="584.2" y="123.4" font-size="8.6" fill="#3a3a3a" textLength="14.6" lengthAdjust="spacingAndGlyphs">PZS</text>
<rect x="532.9" y="130.5" width="5.6" height="5.3" fill="#c6c7c9"/>
<rect x="563.9" y="130.5" width="5.3" height="5.3" fill="#e8646f"/>
<text x="541.2" y="135.6" font-size="7.4" fill="#3a3a3a" font-style="italic" textLength="11.99" lengthAdjust="spacingAndGlyphs">Ckb</text>
<text x="553.39" y="132.3" font-size="4.88" fill="#3a3a3a" textLength="7.91" lengthAdjust="spacingAndGlyphs">fl/fl</text>
<text x="571.8" y="135.6" font-size="7.4" fill="#3a3a3a" font-style="italic" textLength="11.99" lengthAdjust="spacingAndGlyphs">Ckb</text>
<text x="583.99" y="132.3" font-size="4.88" fill="#3a3a3a" textLength="22.91" lengthAdjust="spacingAndGlyphs">AdipoqCre</text>
<text x="556.6" y="25.3" font-size="6.6" fill="#444" font-style="italic" textLength="3.96" lengthAdjust="spacingAndGlyphs">P</text>
<text x="560.69" y="25.3" font-size="6.6" fill="#444" textLength="23.31" lengthAdjust="spacingAndGlyphs">&#160;=&#160;6&#160;&#215;&#160;10</text>
<text x="584.2" y="22.1" font-size="4.49" fill="#444" textLength="5" lengthAdjust="spacingAndGlyphs">&#8722;3</text>
<path d="M559.4,29.9 V27.9 H586.1 V29.9" stroke="#262626" stroke-width="1.1" fill="none"/>
<text x="552.9" y="35.1" font-size="6.6" fill="#e8646f" font-style="italic" textLength="3.96" lengthAdjust="spacingAndGlyphs">P</text>
<text x="556.99" y="35.1" font-size="6.6" fill="#e8646f" textLength="23.51" lengthAdjust="spacingAndGlyphs">&#160;=&#160;0.027</text>
<path d="M559.4,39.5 V37.1 H572.4 V39.5" stroke="#262626" stroke-width="1.1" fill="none"/>
<text x="575.8" y="43.8" font-size="6.6" fill="#444" font-style="italic" textLength="3.96" lengthAdjust="spacingAndGlyphs">P</text>
<text x="579.89" y="43.8" font-size="6.6" fill="#444" textLength="16.01" lengthAdjust="spacingAndGlyphs">&#160;=&#160;0.8</text>
<path d="M572.4,48.8 V46.4 H598.9 V48.8" stroke="#262626" stroke-width="1.1" fill="none"/>
<text x="578.1" y="54.4" font-size="6.6" fill="#e8646f" font-style="italic" textLength="3.96" lengthAdjust="spacingAndGlyphs">P</text>
<text x="582.19" y="54.4" font-size="6.6" fill="#e8646f" textLength="20.11" lengthAdjust="spacingAndGlyphs">&#160;=&#160;0.39</text>
<path d="M584.5,58.5 V56.3 H597.5 V58.5" stroke="#262626" stroke-width="1.1" fill="none"/>
<text x="511" y="70.4" font-size="6.9" fill="#3a3a3a" text-anchor="middle" transform="rotate(-90 511 70.4)" textLength="49.8" lengthAdjust="spacingAndGlyphs">NA-dependent</text>
<text font-size="6.9" fill="#3a3a3a" text-anchor="middle" transform="translate(519.5 70.4) rotate(-90)" textLength="70.4" lengthAdjust="spacingAndGlyphs">O<tspan font-size="4.28" dy="1.6">2</tspan><tspan dy="-1.6"> consumption rate</tspan></text>
<text font-size="7.9" fill="#3a3a3a" text-anchor="middle" transform="translate(530 70.4) rotate(-90)" textLength="81.2" lengthAdjust="spacingAndGlyphs">(nmol min<tspan font-size="4.9" dy="-2.6">&#8722;1</tspan><tspan dy="2.6">/10</tspan><tspan font-size="4.9" dy="-2.6">6</tspan><tspan dy="2.6"> cells)</tspan></text>
<text x="136.8" y="180.1" font-size="9.2" fill="#111" font-weight="bold" textLength="66" lengthAdjust="spacingAndGlyphs" stroke="#111" stroke-width="0.25">NA-dependent</text>
<line x1="143.4" y1="199.09" x2="143.4" y2="281.1" stroke="#bdbdbd" stroke-width="0.8"/>
<line x1="140.7" y1="281.1" x2="143.4" y2="281.1" stroke="#bdbdbd" stroke-width="0.8"/>
<text x="137.4" y="283.8" font-size="8" fill="#3a3a3a" text-anchor="end" textLength="4.45" lengthAdjust="spacingAndGlyphs">0</text>
<line x1="140.7" y1="260.6" x2="143.4" y2="260.6" stroke="#bdbdbd" stroke-width="0.8"/>
<text x="137.4" y="263.3" font-size="8" fill="#3a3a3a" text-anchor="end" textLength="8.9" lengthAdjust="spacingAndGlyphs">60</text>
<line x1="140.7" y1="240.1" x2="143.4" y2="240.1" stroke="#bdbdbd" stroke-width="0.8"/>
<text x="137.4" y="242.8" font-size="8" fill="#3a3a3a" text-anchor="end" textLength="12.85" lengthAdjust="spacingAndGlyphs">120</text>
<line x1="140.7" y1="219.59" x2="143.4" y2="219.59" stroke="#bdbdbd" stroke-width="0.8"/>
<text x="137.4" y="222.29" font-size="8" fill="#3a3a3a" text-anchor="end" textLength="12.85" lengthAdjust="spacingAndGlyphs">180</text>
<line x1="140.7" y1="199.09" x2="143.4" y2="199.09" stroke="#bdbdbd" stroke-width="0.8"/>
<text x="137.4" y="201.79" font-size="8" fill="#3a3a3a" text-anchor="end" textLength="13.35" lengthAdjust="spacingAndGlyphs">240</text>
<line x1="140.5" y1="281.1" x2="197.5" y2="281.1" stroke="#bdbdbd" stroke-width="0.8"/>
<rect x="147.25" y="237.2" width="7.9" height="43.9" fill="#c6c7c9"/>
<rect x="160.1" y="252.8" width="7.9" height="28.3" fill="#e8646f"/>
<rect x="172.8" y="252.6" width="7.9" height="28.5" fill="#c6c7c9"/>
<rect x="185.15" y="257.9" width="7.9" height="23.2" fill="#e8646f"/>
<line x1="151.3" y1="226.7" x2="151.3" y2="240.1" stroke="#555" stroke-width="0.7"/>
<line x1="149.6" y1="226.7" x2="153" y2="226.7" stroke="#555" stroke-width="0.7"/>
<line x1="149.6" y1="240.1" x2="153" y2="240.1" stroke="#555" stroke-width="0.7"/>
<line x1="164" y1="247.6" x2="164" y2="257.6" stroke="#555" stroke-width="0.7"/>
<line x1="162.3" y1="247.6" x2="165.7" y2="247.6" stroke="#555" stroke-width="0.7"/>
<line x1="162.3" y1="257.6" x2="165.7" y2="257.6" stroke="#555" stroke-width="0.7"/>
<line x1="176.7" y1="245.3" x2="176.7" y2="258.5" stroke="#555" stroke-width="0.7"/>
<line x1="175" y1="245.3" x2="178.4" y2="245.3" stroke="#555" stroke-width="0.7"/>
<line x1="175" y1="258.5" x2="178.4" y2="258.5" stroke="#555" stroke-width="0.7"/>
<line x1="189.2" y1="251.1" x2="189.2" y2="264" stroke="#555" stroke-width="0.7"/>
<line x1="187.5" y1="251.1" x2="190.9" y2="251.1" stroke="#555" stroke-width="0.7"/>
<line x1="187.5" y1="264" x2="190.9" y2="264" stroke="#555" stroke-width="0.7"/>
<circle cx="151.3" cy="207.8" r="1.5" fill="#141414"/>
<circle cx="148.7" cy="236.3" r="1.5" fill="#141414"/>
<circle cx="154.1" cy="235" r="1.5" fill="#141414"/>
<circle cx="148.7" cy="245" r="1.5" fill="#141414"/>
<circle cx="154.1" cy="244" r="1.5" fill="#141414"/>
<circle cx="163.9" cy="237.4" r="1.5" fill="#141414"/>
<circle cx="162.4" cy="249.1" r="1.5" fill="#141414"/>
<circle cx="165.5" cy="246.6" r="1.5" fill="#141414"/>
<circle cx="164" cy="261.1" r="1.5" fill="#141414"/>
<circle cx="164" cy="267.9" r="1.5" fill="#141414"/>
<circle cx="176.6" cy="234.1" r="1.5" fill="#141414"/>
<circle cx="174.6" cy="247.3" r="1.5" fill="#141414"/>
<circle cx="178.4" cy="245.4" r="1.5" fill="#141414"/>
<circle cx="176.6" cy="264" r="1.5" fill="#141414"/>
<circle cx="176.6" cy="270" r="1.5" fill="#141414"/>
<circle cx="189.3" cy="242.6" r="1.5" fill="#141414"/>
<circle cx="189.3" cy="251.1" r="1.5" fill="#141414"/>
<circle cx="189.3" cy="258.1" r="1.5" fill="#141414"/>
<circle cx="189.3" cy="262.4" r="1.5" fill="#141414"/>
<circle cx="189.3" cy="273.3" r="1.5" fill="#141414"/>
<line x1="146.4" y1="284" x2="166.8" y2="284" stroke="#555" stroke-width="1.1"/>
<line x1="172" y1="284" x2="191.9" y2="284" stroke="#555" stroke-width="1.1"/>
<text x="138.3" y="294.8" font-size="8.4" fill="#3a3a3a" textLength="28.7" lengthAdjust="spacingAndGlyphs">Vehicle</text>
<text x="170.5" y="294.8" font-size="8.4" fill="#3a3a3a" textLength="36.2" lengthAdjust="spacingAndGlyphs">RS-17053</text>
<rect x="124.4" y="302.4" width="5.5" height="5.1" fill="#c6c7c9"/>
<rect x="163.1" y="302.4" width="5.4" height="5.1" fill="#e8646f"/>
<text x="132.8" y="307.2" font-size="7.4" fill="#3a3a3a" font-style="italic" textLength="11.99" lengthAdjust="spacingAndGlyphs">Ckb</text>
<text x="144.99" y="303.9" font-size="4.88" fill="#3a3a3a" textLength="8.31" lengthAdjust="spacingAndGlyphs">fl/fl</text>
<text x="171.1" y="307.2" font-size="7.4" fill="#3a3a3a" font-style="italic" textLength="11.99" lengthAdjust="spacingAndGlyphs">Ckb</text>
<text x="183.29" y="303.9" font-size="4.88" fill="#3a3a3a" textLength="23.61" lengthAdjust="spacingAndGlyphs">AdipoqCre</text>
<text x="151" y="190.9" font-size="6.6" fill="#444" font-style="italic" textLength="3.96" lengthAdjust="spacingAndGlyphs">P</text>
<text x="155.09" y="190.9" font-size="6.6" fill="#444" textLength="19.81" lengthAdjust="spacingAndGlyphs">&#160;=&#160;0.04</text>
<path d="M149.8,195.1 V192.8 H176.6 V195.1" stroke="#262626" stroke-width="1.1" fill="none"/>
<text x="145.1" y="201.7" font-size="6.6" fill="#e8646f" font-style="italic" textLength="3.96" lengthAdjust="spacingAndGlyphs">P</text>
<text x="149.19" y="201.7" font-size="6.6" fill="#e8646f" textLength="19.81" lengthAdjust="spacingAndGlyphs">&#160;=&#160;0.04</text>
<path d="M149.4,205.4 V203.1 H162.3 V205.4" stroke="#262626" stroke-width="1.1" fill="none"/>
<text x="164.1" y="215.7" font-size="6.6" fill="#444" font-style="italic" textLength="3.96" lengthAdjust="spacingAndGlyphs">P</text>
<text x="168.19" y="215.7" font-size="6.6" fill="#444" textLength="19.81" lengthAdjust="spacingAndGlyphs">&#160;=&#160;0.56</text>
<path d="M162.6,219.8 V217.4 H188.9 V219.8" stroke="#262626" stroke-width="1.1" fill="none"/>
<line x1="175.5" y1="217.4" x2="175.5" y2="219.6" stroke="#333" stroke-width="0.9"/>
<text x="169.7" y="226.9" font-size="6.6" fill="#e8646f" font-style="italic" textLength="3.96" lengthAdjust="spacingAndGlyphs">P</text>
<text x="173.79" y="226.9" font-size="6.6" fill="#e8646f" textLength="20.21" lengthAdjust="spacingAndGlyphs">&#160;=&#160;0.55</text>
<path d="M175.5,230.8 V228.4 H188.4 V230.8" stroke="#262626" stroke-width="1.1" fill="none"/>
<text x="96.7" y="240.9" font-size="7.9" fill="#3a3a3a" text-anchor="middle" transform="rotate(-90 96.7 240.9)" textLength="57.4" lengthAdjust="spacingAndGlyphs">NA-dependent</text>
<text font-size="7.9" fill="#3a3a3a" text-anchor="middle" transform="translate(107.4 240.9) rotate(-90)" textLength="82.9" lengthAdjust="spacingAndGlyphs">O<tspan font-size="4.9" dy="1.6">2</tspan><tspan dy="-1.6"> consumption rate</tspan></text>
<text font-size="8.1" fill="#3a3a3a" text-anchor="middle" transform="translate(117.7 240.9) rotate(-90)" textLength="87.2" lengthAdjust="spacingAndGlyphs">(nmol min<tspan font-size="5.02" dy="-2.6">&#8722;1</tspan><tspan dy="2.6">/10</tspan><tspan font-size="5.02" dy="-2.6">6</tspan><tspan dy="2.6"> cells)</tspan></text>
<line x1="253.1" y1="187.21" x2="253.1" y2="260.2" stroke="#8a8a8a" stroke-width="0.8"/>
<line x1="250.4" y1="260.2" x2="253.1" y2="260.2" stroke="#8a8a8a" stroke-width="0.8"/>
<text x="248.9" y="262.85" font-size="8" fill="#3a3a3a" text-anchor="end" textLength="4.6" lengthAdjust="spacingAndGlyphs">0</text>
<line x1="250.4" y1="245.6" x2="253.1" y2="245.6" stroke="#8a8a8a" stroke-width="0.8"/>
<text x="248.9" y="248.25" font-size="8" fill="#3a3a3a" text-anchor="end" textLength="9.2" lengthAdjust="spacingAndGlyphs">60</text>
<line x1="250.4" y1="231" x2="253.1" y2="231" stroke="#8a8a8a" stroke-width="0.8"/>
<text x="248.9" y="233.65" font-size="8" fill="#3a3a3a" text-anchor="end" textLength="13.3" lengthAdjust="spacingAndGlyphs">120</text>
<line x1="250.4" y1="216.41" x2="253.1" y2="216.41" stroke="#8a8a8a" stroke-width="0.8"/>
<text x="248.9" y="219.06" font-size="8" fill="#3a3a3a" text-anchor="end" textLength="13.3" lengthAdjust="spacingAndGlyphs">180</text>
<line x1="250.4" y1="201.81" x2="253.1" y2="201.81" stroke="#8a8a8a" stroke-width="0.8"/>
<text x="248.9" y="204.46" font-size="8" fill="#3a3a3a" text-anchor="end" textLength="13.8" lengthAdjust="spacingAndGlyphs">240</text>
<line x1="250.4" y1="187.21" x2="253.1" y2="187.21" stroke="#8a8a8a" stroke-width="0.8"/>
<text x="248.9" y="189.86" font-size="8" fill="#3a3a3a" text-anchor="end" textLength="13.8" lengthAdjust="spacingAndGlyphs">300</text>
<line x1="251.3" y1="260.2" x2="302.5" y2="260.2" stroke="#8a8a8a" stroke-width="0.8"/>
<rect x="256.9" y="220.9" width="7.2" height="39.3" fill="#c6c7c9"/>
<line x1="260.5" y1="260.2" x2="260.5" y2="262.9" stroke="#8a8a8a" stroke-width="0.8"/>
<rect x="266.4" y="242.8" width="7.2" height="17.4" fill="#c6c7c9"/>
<line x1="270" y1="260.2" x2="270" y2="262.9" stroke="#8a8a8a" stroke-width="0.8"/>
<rect x="282.75" y="238.1" width="7.2" height="22.1" fill="#e8646f"/>
<line x1="286.35" y1="260.2" x2="286.35" y2="262.9" stroke="#8a8a8a" stroke-width="0.8"/>
<rect x="292.35" y="245.9" width="7.2" height="14.3" fill="#e8646f"/>
<line x1="295.95" y1="260.2" x2="295.95" y2="262.9" stroke="#8a8a8a" stroke-width="0.8"/>
<line x1="260.5" y1="213.1" x2="260.5" y2="228.5" stroke="#555" stroke-width="0.7"/>
<line x1="258.8" y1="213.1" x2="262.2" y2="213.1" stroke="#555" stroke-width="0.7"/>
<line x1="258.8" y1="228.5" x2="262.2" y2="228.5" stroke="#555" stroke-width="0.7"/>
<line x1="270" y1="236.9" x2="270" y2="248.5" stroke="#555" stroke-width="0.7"/>
<line x1="268.3" y1="236.9" x2="271.7" y2="236.9" stroke="#555" stroke-width="0.7"/>
<line x1="268.3" y1="248.5" x2="271.7" y2="248.5" stroke="#555" stroke-width="0.7"/>
<line x1="286.3" y1="233.8" x2="286.3" y2="242.5" stroke="#555" stroke-width="0.7"/>
<line x1="284.6" y1="233.8" x2="288" y2="233.8" stroke="#555" stroke-width="0.7"/>
<line x1="284.6" y1="242.5" x2="288" y2="242.5" stroke="#555" stroke-width="0.7"/>
<line x1="296" y1="243.2" x2="296" y2="248.5" stroke="#555" stroke-width="0.7"/>
<line x1="294.3" y1="243.2" x2="297.7" y2="243.2" stroke="#555" stroke-width="0.7"/>
<line x1="294.3" y1="248.5" x2="297.7" y2="248.5" stroke="#555" stroke-width="0.7"/>
<circle cx="260.4" cy="198.4" r="1.2" fill="#141414"/>
<circle cx="260.4" cy="210.1" r="1.2" fill="#141414"/>
<circle cx="260.4" cy="220.7" r="1.2" fill="#141414"/>
<circle cx="260.3" cy="232.5" r="1.2" fill="#141414"/>
<circle cx="260.3" cy="240.2" r="1.2" fill="#141414"/>
<circle cx="270.2" cy="226.7" r="1.2" fill="#141414"/>
<circle cx="268" cy="239.8" r="1.2" fill="#141414"/>
<circle cx="271.8" cy="238.5" r="1.2" fill="#141414"/>
<circle cx="270.2" cy="248.1" r="1.2" fill="#141414"/>
<circle cx="269.7" cy="258.9" r="1.2" fill="#141414"/>
<circle cx="286.3" cy="226.4" r="1.2" fill="#141414"/>
<circle cx="286.3" cy="230.7" r="1.2" fill="#141414"/>
<circle cx="284.4" cy="241.6" r="1.2" fill="#141414"/>
<circle cx="288.7" cy="242.8" r="1.2" fill="#141414"/>
<circle cx="286.3" cy="246.2" r="1.2" fill="#141414"/>
<circle cx="296" cy="242.3" r="1.2" fill="#141414"/>
<circle cx="294" cy="244.4" r="1.2" fill="#141414"/>
<circle cx="297.5" cy="244.4" r="1.2" fill="#141414"/>
<circle cx="296" cy="247" r="1.2" fill="#141414"/>
<circle cx="296" cy="250.8" r="1.2" fill="#141414"/>
<text x="239.3" y="271.7" font-size="8.4" fill="#3a3a3a" textLength="13.8" lengthAdjust="spacingAndGlyphs">NA:</text>
<text x="229.4" y="281.8" font-size="8.6" fill="#3a3a3a" textLength="24" lengthAdjust="spacingAndGlyphs">Oligo:</text>
<text x="260.5" y="271.5" font-size="7" fill="#3a3a3a" text-anchor="middle">+</text>
<text x="270" y="271.5" font-size="7" fill="#3a3a3a" text-anchor="middle">+</text>
<text x="286.35" y="271.5" font-size="7" fill="#3a3a3a" text-anchor="middle">+</text>
<text x="295.95" y="271.5" font-size="7" fill="#3a3a3a" text-anchor="middle">+</text>
<text x="260.5" y="281.6" font-size="7" fill="#3a3a3a" text-anchor="middle">&#8211;</text>
<text x="270" y="281.6" font-size="7" fill="#3a3a3a" text-anchor="middle">+</text>
<text x="286.35" y="281.6" font-size="7" fill="#3a3a3a" text-anchor="middle">&#8211;</text>
<text x="295.95" y="281.6" font-size="7" fill="#3a3a3a" text-anchor="middle">+</text>
<rect x="229.1" y="290.5" width="4.8" height="5.1" fill="#c6c7c9"/>
<rect x="263.8" y="290.5" width="5.1" height="5.1" fill="#e8646f"/>
<text x="236.4" y="295.6" font-size="7.4" fill="#3a3a3a" font-style="italic" textLength="11.99" lengthAdjust="spacingAndGlyphs">Ckb</text>
<text x="248.59" y="292.3" font-size="4.88" fill="#3a3a3a" textLength="7.21" lengthAdjust="spacingAndGlyphs">fl/fl</text>
<text x="271.1" y="295.6" font-size="7.4" fill="#3a3a3a" font-style="italic" textLength="11.99" lengthAdjust="spacingAndGlyphs">Ckb</text>
<text x="283.29" y="292.3" font-size="4.88" fill="#3a3a3a" textLength="23.11" lengthAdjust="spacingAndGlyphs">AdipoqCre</text>
<text x="258.4" y="181.5" font-size="6.6" fill="#444" font-style="italic" textLength="3.96" lengthAdjust="spacingAndGlyphs">P</text>
<text x="262.49" y="181.5" font-size="6.6" fill="#444" textLength="23.71" lengthAdjust="spacingAndGlyphs">&#160;=&#160;0.028</text>
<path d="M258.9,186.5 V184.1 H286 V186.5" stroke="#262626" stroke-width="1.1" fill="none"/>
<text x="254.8" y="192.7" font-size="6.6" fill="#444" font-style="italic" textLength="3.96" lengthAdjust="spacingAndGlyphs">P</text>
<text x="258.89" y="192.7" font-size="6.6" fill="#444" textLength="25.11" lengthAdjust="spacingAndGlyphs">&#160;=&#160;7&#160;&#215;&#160;10</text>
<text x="284.2" y="189.5" font-size="4.49" fill="#444" textLength="4.6" lengthAdjust="spacingAndGlyphs">&#8722;5</text>
<path d="M258.9,195.8 V194.2 H268.9 V195.8" stroke="#262626" stroke-width="1.1" fill="none"/>
<text x="280.8" y="218.9" font-size="6.6" fill="#444" font-style="italic" textLength="3.96" lengthAdjust="spacingAndGlyphs">P</text>
<text x="284.89" y="218.9" font-size="6.6" fill="#444" textLength="16.11" lengthAdjust="spacingAndGlyphs">&#160;=&#160;0.3</text>
<path d="M286.6,223.1 V221.6 H295.6 V223.1" stroke="#262626" stroke-width="1.1" fill="none"/>
<text font-size="8" fill="#3a3a3a" text-anchor="middle" transform="translate(216.9 224.4) rotate(-90)" textLength="82.1" lengthAdjust="spacingAndGlyphs">O<tspan font-size="4.96" dy="1.6">2</tspan><tspan dy="-1.6"> consumption rate</tspan></text>
<text font-size="8.1" fill="#3a3a3a" text-anchor="middle" transform="translate(227.4 224.4) rotate(-90)" textLength="87.6" lengthAdjust="spacingAndGlyphs">(nmol min<tspan font-size="5.02" dy="-2.6">&#8722;1</tspan><tspan dy="2.6">/10</tspan><tspan font-size="5.02" dy="-2.6">6</tspan><tspan dy="2.6"> cells)</tspan></text>
<line x1="352.1" y1="187.31" x2="352.1" y2="260.1" stroke="#8a8a8a" stroke-width="0.8"/>
<line x1="349.4" y1="260.1" x2="352.1" y2="260.1" stroke="#8a8a8a" stroke-width="0.8"/>
<text x="347.4" y="262.6" font-size="8" fill="#3a3a3a" text-anchor="end" textLength="4.45" lengthAdjust="spacingAndGlyphs">0</text>
<line x1="349.4" y1="241.9" x2="352.1" y2="241.9" stroke="#8a8a8a" stroke-width="0.8"/>
<text x="347.4" y="244.4" font-size="8" fill="#3a3a3a" text-anchor="end" textLength="8.9" lengthAdjust="spacingAndGlyphs">90</text>
<line x1="349.4" y1="223.7" x2="352.1" y2="223.7" stroke="#8a8a8a" stroke-width="0.8"/>
<text x="347.4" y="226.2" font-size="8" fill="#3a3a3a" text-anchor="end" textLength="12.85" lengthAdjust="spacingAndGlyphs">180</text>
<line x1="349.4" y1="205.51" x2="352.1" y2="205.51" stroke="#8a8a8a" stroke-width="0.8"/>
<text x="347.4" y="208.01" font-size="8" fill="#3a3a3a" text-anchor="end" textLength="13.35" lengthAdjust="spacingAndGlyphs">270</text>
<line x1="349.4" y1="187.31" x2="352.1" y2="187.31" stroke="#8a8a8a" stroke-width="0.8"/>
<text x="347.4" y="189.81" font-size="8" fill="#3a3a3a" text-anchor="end" textLength="13.35" lengthAdjust="spacingAndGlyphs">360</text>
<line x1="349.6" y1="260.2" x2="400.4" y2="260.2" stroke="#8a8a8a" stroke-width="0.8"/>
<rect x="355.1" y="218.1" width="6.9" height="42.1" fill="#c6c7c9"/>
<line x1="358.55" y1="260.2" x2="358.55" y2="262.9" stroke="#8a8a8a" stroke-width="0.8"/>
<rect x="364.95" y="232.6" width="6.9" height="27.6" fill="#c6c7c9"/>
<line x1="368.4" y1="260.2" x2="368.4" y2="262.9" stroke="#8a8a8a" stroke-width="0.8"/>
<rect x="381.25" y="233.2" width="6.9" height="27" fill="#5fa3d6"/>
<line x1="384.7" y1="260.2" x2="384.7" y2="262.9" stroke="#8a8a8a" stroke-width="0.8"/>
<rect x="391.05" y="234.9" width="6.9" height="25.3" fill="#5fa3d6"/>
<line x1="394.5" y1="260.2" x2="394.5" y2="262.9" stroke="#8a8a8a" stroke-width="0.8"/>
<line x1="358.6" y1="214.2" x2="358.6" y2="222" stroke="#555" stroke-width="0.7"/>
<line x1="356.9" y1="214.2" x2="360.3" y2="214.2" stroke="#555" stroke-width="0.7"/>
<line x1="356.9" y1="222" x2="360.3" y2="222" stroke="#555" stroke-width="0.7"/>
<line x1="368.4" y1="230" x2="368.4" y2="235.2" stroke="#555" stroke-width="0.7"/>
<line x1="366.7" y1="230" x2="370.1" y2="230" stroke="#555" stroke-width="0.7"/>
<line x1="366.7" y1="235.2" x2="370.1" y2="235.2" stroke="#555" stroke-width="0.7"/>
<line x1="384.7" y1="230.8" x2="384.7" y2="235.6" stroke="#555" stroke-width="0.7"/>
<line x1="383" y1="230.8" x2="386.4" y2="230.8" stroke="#555" stroke-width="0.7"/>
<line x1="383" y1="235.6" x2="386.4" y2="235.6" stroke="#555" stroke-width="0.7"/>
<line x1="394.5" y1="232.3" x2="394.5" y2="237.5" stroke="#555" stroke-width="0.7"/>
<line x1="392.8" y1="232.3" x2="396.2" y2="232.3" stroke="#555" stroke-width="0.7"/>
<line x1="392.8" y1="237.5" x2="396.2" y2="237.5" stroke="#555" stroke-width="0.7"/>
<circle cx="358.6" cy="204.6" r="1.15" fill="#141414"/>
<circle cx="357.4" cy="220" r="1.15" fill="#141414"/>
<circle cx="360" cy="221" r="1.15" fill="#141414"/>
<circle cx="361" cy="223.2" r="1.15" fill="#141414"/>
<circle cx="358" cy="225.4" r="1.15" fill="#141414"/>
<circle cx="367.6" cy="226.5" r="1.15" fill="#141414"/>
<circle cx="368.5" cy="229.7" r="1.15" fill="#141414"/>
<circle cx="367.6" cy="231.3" r="1.15" fill="#141414"/>
<circle cx="366.6" cy="234.8" r="1.15" fill="#141414"/>
<circle cx="369.9" cy="237.2" r="1.15" fill="#141414"/>
<circle cx="383.9" cy="227.5" r="1.15" fill="#141414"/>
<circle cx="385.2" cy="229.8" r="1.15" fill="#141414"/>
<circle cx="384.4" cy="231.8" r="1.15" fill="#141414"/>
<circle cx="384.9" cy="233.5" r="1.15" fill="#141414"/>
<circle cx="383.9" cy="238" r="1.15" fill="#141414"/>
<circle cx="394.8" cy="230.7" r="1.15" fill="#141414"/>
<circle cx="393.8" cy="233.5" r="1.15" fill="#141414"/>
<circle cx="394.5" cy="235.4" r="1.15" fill="#141414"/>
<circle cx="393.5" cy="237.3" r="1.15" fill="#141414"/>
<text x="336.7" y="271.7" font-size="8.4" fill="#3a3a3a" textLength="13.8" lengthAdjust="spacingAndGlyphs">NA:</text>
<text x="326.5" y="281.8" font-size="8.6" fill="#3a3a3a" textLength="24" lengthAdjust="spacingAndGlyphs">Oligo:</text>
<text x="358.4" y="271.5" font-size="7" fill="#3a3a3a" text-anchor="middle">+</text>
<text x="368.4" y="271.5" font-size="7" fill="#3a3a3a" text-anchor="middle">+</text>
<text x="384.4" y="271.5" font-size="7" fill="#3a3a3a" text-anchor="middle">+</text>
<text x="394.5" y="271.5" font-size="7" fill="#3a3a3a" text-anchor="middle">+</text>
<text x="358.4" y="281.6" font-size="7" fill="#3a3a3a" text-anchor="middle">&#8211;</text>
<text x="368.4" y="281.6" font-size="7" fill="#3a3a3a" text-anchor="middle">+</text>
<text x="384.4" y="281.6" font-size="7" fill="#3a3a3a" text-anchor="middle">&#8211;</text>
<text x="394.5" y="281.6" font-size="7" fill="#3a3a3a" text-anchor="middle">+</text>
<rect x="326.1" y="290.5" width="5.3" height="4.8" fill="#c6c7c9"/>
<text x="334.8" y="295.3" font-size="7.4" fill="#3a3a3a" textLength="22.4" lengthAdjust="spacingAndGlyphs">Vehicle</text>
<rect x="363.1" y="290.5" width="5.1" height="4.8" fill="#5fa3d6"/>
<text x="371.7" y="295.3" font-size="7.4" fill="#3a3a3a" textLength="23.5" lengthAdjust="spacingAndGlyphs">SBI-425</text>
<text x="355.3" y="185.8" font-size="6.6" fill="#444" font-style="italic" textLength="3.96" lengthAdjust="spacingAndGlyphs">P</text>
<text x="359.39" y="185.8" font-size="6.6" fill="#444" textLength="23.81" lengthAdjust="spacingAndGlyphs">&#160;=&#160;5&#160;&#215;&#160;10</text>
<text x="383.4" y="182.6" font-size="4.49" fill="#444" textLength="4.6" lengthAdjust="spacingAndGlyphs">&#8722;4</text>
<path d="M358.2,189.4 V187.9 H386 V189.4" stroke="#262626" stroke-width="1.1" fill="none"/>
<text x="353.8" y="197.7" font-size="6.6" fill="#444" font-style="italic" textLength="3.96" lengthAdjust="spacingAndGlyphs">P</text>
<text x="357.89" y="197.7" font-size="6.6" fill="#444" textLength="23.51" lengthAdjust="spacingAndGlyphs">&#160;=&#160;7&#160;&#215;&#160;10</text>
<text x="381.6" y="194.5" font-size="4.49" fill="#444" textLength="4.6" lengthAdjust="spacingAndGlyphs">&#8722;4</text>
<path d="M358.2,201.6 V199.5 H370.5 V201.6" stroke="#262626" stroke-width="1.1" fill="none"/>
<text x="376.5" y="218.9" font-size="6.6" fill="#444" font-style="italic" textLength="3.96" lengthAdjust="spacingAndGlyphs">P</text>
<text x="380.59" y="218.9" font-size="6.6" fill="#444" textLength="19.41" lengthAdjust="spacingAndGlyphs">&#160;=&#160;0.58</text>
<path d="M383.5,222.8 V221.4 H396.6 V222.8" stroke="#262626" stroke-width="1.1" fill="none"/>
<text font-size="8" fill="#3a3a3a" text-anchor="middle" transform="translate(319.3 224.6) rotate(-90)" textLength="82.5" lengthAdjust="spacingAndGlyphs">O<tspan font-size="4.96" dy="1.6">2</tspan><tspan dy="-1.6"> consumption rate</tspan></text>
<text font-size="8.1" fill="#3a3a3a" text-anchor="middle" transform="translate(329.4 224.6) rotate(-90)" textLength="87" lengthAdjust="spacingAndGlyphs">(nmol min<tspan font-size="5.02" dy="-2.6">&#8722;1</tspan><tspan dy="2.6">/10</tspan><tspan font-size="5.02" dy="-2.6">6</tspan><tspan dy="2.6"> cells)</tspan></text>
<line x1="440.8" y1="195.43" x2="440.8" y2="247.24" stroke="#707070" stroke-width="0.8"/>
<line x1="440.8" y1="247.24" x2="490.4" y2="247.24" stroke="#707070" stroke-width="0.8"/>
<line x1="438.3" y1="195.43" x2="440.8" y2="195.43" stroke="#707070" stroke-width="0.8"/>
<text x="435.2" y="197.93" font-size="7.2" fill="#3a3a3a" text-anchor="end" textLength="11.55" lengthAdjust="spacingAndGlyphs">105</text>
<line x1="438.3" y1="212.7" x2="440.8" y2="212.7" stroke="#707070" stroke-width="0.8"/>
<text x="435.2" y="215.2" font-size="7.2" fill="#3a3a3a" text-anchor="end" textLength="11.55" lengthAdjust="spacingAndGlyphs">100</text>
<line x1="438.3" y1="229.97" x2="440.8" y2="229.97" stroke="#707070" stroke-width="0.8"/>
<text x="435.2" y="232.47" font-size="7.2" fill="#3a3a3a" text-anchor="end" textLength="7.7" lengthAdjust="spacingAndGlyphs">95</text>
<line x1="438.3" y1="247.24" x2="440.8" y2="247.24" stroke="#707070" stroke-width="0.8"/>
<text x="435.2" y="249.74" font-size="7.2" fill="#3a3a3a" text-anchor="end" textLength="7.7" lengthAdjust="spacingAndGlyphs">90</text>
<line x1="440.8" y1="247.24" x2="440.8" y2="249.84" stroke="#707070" stroke-width="0.8"/>
<text font-size="7.9" fill="#3a3a3a" text-anchor="end" transform="translate(442.7 252.9) rotate(-90)" textLength="4.5" lengthAdjust="spacingAndGlyphs">0</text>
<line x1="450.72" y1="247.24" x2="450.72" y2="249.84" stroke="#707070" stroke-width="0.8"/>
<text font-size="7.9" fill="#3a3a3a" text-anchor="end" transform="translate(452.62 252.9) rotate(-90)" textLength="9" lengthAdjust="spacingAndGlyphs">80</text>
<line x1="460.64" y1="247.24" x2="460.64" y2="249.84" stroke="#707070" stroke-width="0.8"/>
<text font-size="7.9" fill="#3a3a3a" text-anchor="end" transform="translate(462.54 252.9) rotate(-90)" textLength="13.5" lengthAdjust="spacingAndGlyphs">160</text>
<line x1="470.56" y1="247.24" x2="470.56" y2="249.84" stroke="#707070" stroke-width="0.8"/>
<text font-size="7.9" fill="#3a3a3a" text-anchor="end" transform="translate(472.46 252.9) rotate(-90)" textLength="13.5" lengthAdjust="spacingAndGlyphs">240</text>
<line x1="480.48" y1="247.24" x2="480.48" y2="249.84" stroke="#707070" stroke-width="0.8"/>
<text font-size="7.9" fill="#3a3a3a" text-anchor="end" transform="translate(482.38 252.9) rotate(-90)" textLength="13.5" lengthAdjust="spacingAndGlyphs">320</text>
<line x1="490.4" y1="247.24" x2="490.4" y2="249.84" stroke="#707070" stroke-width="0.8"/>
<text font-size="7.9" fill="#3a3a3a" text-anchor="end" transform="translate(492.3 252.9) rotate(-90)" textLength="13.5" lengthAdjust="spacingAndGlyphs">400</text>
<text x="451.5" y="191.6" font-size="8.8" fill="#111" font-weight="bold" font-style="italic" textLength="18.6" lengthAdjust="spacingAndGlyphs">Ckb</text>
<text x="470.4" y="187.9" font-size="6" fill="#111" font-weight="bold" textLength="11.5" lengthAdjust="spacingAndGlyphs">fl/fl</text>
<text x="453.9" y="203.6" font-size="6.3" fill="#444" textLength="9.1" lengthAdjust="spacingAndGlyphs">NA</text>
<path d="M456.6,205.0 L460.4,205.0 L458.5,209.9 Z" stroke="none" stroke-width="1" fill="#2f4866"/>
<polyline points="440.8,208.8 448,211.3 452,212.5 458.5,213.9 462,216.6 466.7,220.4 473,226.7 480.7,235 485,240.5 490.5,246.6" fill="none" stroke="#cfcfcf" stroke-width="1.1" stroke-linejoin="round" stroke-linecap="round"/>
<polyline points="440.8,206.4 444,207.8 448,209.1 453.9,212.3 458.5,213.5 463,215.3 467.9,217.5 471.4,221.6 473.7,222.5 477,224.8 480.7,227.4 486,231 491.2,234.5" fill="none" stroke="#4a9ad6" stroke-width="1.2" stroke-linejoin="round" stroke-linecap="round"/>
<line x1="442.2" y1="234.2" x2="448.2" y2="234.2" stroke="#d0d0d0" stroke-width="1.2"/>
<line x1="442.2" y1="243.1" x2="448.2" y2="243.1" stroke="#4a9ad6" stroke-width="1.3"/>
<text x="450.9" y="236.4" font-size="8" fill="#3a3a3a" textLength="22.2" lengthAdjust="spacingAndGlyphs">Vehicle</text>
<text x="450.9" y="245.2" font-size="8" fill="#3a3a3a" textLength="23.4" lengthAdjust="spacingAndGlyphs">SBI-425</text>
<text x="454" y="278.9" font-size="8.2" fill="#3a3a3a" textLength="26" lengthAdjust="spacingAndGlyphs">Time (s)</text>
<line x1="498.6" y1="195.43" x2="498.6" y2="247.24" stroke="#707070" stroke-width="0.8"/>
<line x1="498.6" y1="247.24" x2="548.6" y2="247.24" stroke="#707070" stroke-width="0.8"/>
<line x1="496.1" y1="195.43" x2="498.6" y2="195.43" stroke="#707070" stroke-width="0.8"/>
<line x1="496.1" y1="212.7" x2="498.6" y2="212.7" stroke="#707070" stroke-width="0.8"/>
<line x1="496.1" y1="229.97" x2="498.6" y2="229.97" stroke="#707070" stroke-width="0.8"/>
<line x1="496.1" y1="247.24" x2="498.6" y2="247.24" stroke="#707070" stroke-width="0.8"/>
<line x1="498.6" y1="247.24" x2="498.6" y2="249.84" stroke="#707070" stroke-width="0.8"/>
<text font-size="7.9" fill="#3a3a3a" text-anchor="end" transform="translate(500.5 252.9) rotate(-90)" textLength="4.5" lengthAdjust="spacingAndGlyphs">0</text>
<line x1="508.6" y1="247.24" x2="508.6" y2="249.84" stroke="#707070" stroke-width="0.8"/>
<text font-size="7.9" fill="#3a3a3a" text-anchor="end" transform="translate(510.5 252.9) rotate(-90)" textLength="9" lengthAdjust="spacingAndGlyphs">80</text>
<line x1="518.6" y1="247.24" x2="518.6" y2="249.84" stroke="#707070" stroke-width="0.8"/>
<text font-size="7.9" fill="#3a3a3a" text-anchor="end" transform="translate(520.5 252.9) rotate(-90)" textLength="13.5" lengthAdjust="spacingAndGlyphs">160</text>
<line x1="528.6" y1="247.24" x2="528.6" y2="249.84" stroke="#707070" stroke-width="0.8"/>
<text font-size="7.9" fill="#3a3a3a" text-anchor="end" transform="translate(530.5 252.9) rotate(-90)" textLength="13.5" lengthAdjust="spacingAndGlyphs">240</text>
<line x1="538.6" y1="247.24" x2="538.6" y2="249.84" stroke="#707070" stroke-width="0.8"/>
<text font-size="7.9" fill="#3a3a3a" text-anchor="end" transform="translate(540.5 252.9) rotate(-90)" textLength="13.5" lengthAdjust="spacingAndGlyphs">320</text>
<line x1="548.6" y1="247.24" x2="548.6" y2="249.84" stroke="#707070" stroke-width="0.8"/>
<text font-size="7.9" fill="#3a3a3a" text-anchor="end" transform="translate(550.5 252.9) rotate(-90)" textLength="13.5" lengthAdjust="spacingAndGlyphs">400</text>
<text x="502.8" y="191.6" font-size="8.8" fill="#111" font-weight="bold" font-style="italic" textLength="17.9" lengthAdjust="spacingAndGlyphs">Ckb</text>
<text x="521" y="187.9" font-size="6" fill="#111" font-weight="bold" textLength="35" lengthAdjust="spacingAndGlyphs">AdipoqCre</text>
<text x="511" y="203.6" font-size="6.3" fill="#444" textLength="9.1" lengthAdjust="spacingAndGlyphs">NA</text>
<path d="M513.6,205.0 L517.4,205.0 L515.5,209.9 Z" stroke="none" stroke-width="1" fill="#2f4866"/>
<polyline points="498.6,209.6 506.4,211.5 513.4,213.1 516.3,212.3 525,215 537,218.6 550.1,222.3" fill="none" stroke="#cfcfcf" stroke-width="1.1" stroke-linejoin="round" stroke-linecap="round"/>
<polyline points="498.6,209.3 502,210.3 506.4,211.1 510,212.3 513.4,212.8 516.3,211.7 520,213.2 525,214.6 537,218.3 550.1,222" fill="none" stroke="#4a9ad6" stroke-width="1.2" stroke-linejoin="round" stroke-linecap="round"/>
<line x1="500.1" y1="234.2" x2="506.1" y2="234.2" stroke="#d0d0d0" stroke-width="1.2"/>
<line x1="500.1" y1="243.1" x2="506.1" y2="243.1" stroke="#4a9ad6" stroke-width="1.3"/>
<text x="508.8" y="236.4" font-size="8" fill="#3a3a3a" textLength="22.2" lengthAdjust="spacingAndGlyphs">Vehicle</text>
<text x="508.8" y="245.2" font-size="8" fill="#3a3a3a" textLength="23.4" lengthAdjust="spacingAndGlyphs">SBI-425</text>
<text x="511.8" y="278.9" font-size="8.2" fill="#3a3a3a" textLength="26" lengthAdjust="spacingAndGlyphs">Time (s)</text>
<text font-size="8.9" fill="#3a3a3a" transform="translate(416 229.6) rotate(-90)" x="-0.3" y="0" textLength="6.2" lengthAdjust="spacingAndGlyphs">%</text>
<text font-size="8.9" fill="#3a3a3a" transform="translate(416 222.2) rotate(-90)" x="-0.3" y="0" textLength="6.2" lengthAdjust="spacingAndGlyphs">O</text>
<text font-size="5.52" fill="#3a3a3a" transform="translate(418.9 215.8) rotate(-90)" x="-0.3" y="0" textLength="3.4" lengthAdjust="spacingAndGlyphs">2</text>
<line x1="607.2" y1="193.31" x2="607.2" y2="266.3" stroke="#bdbdbd" stroke-width="0.8"/>
<line x1="604.5" y1="266.3" x2="607.2" y2="266.3" stroke="#bdbdbd" stroke-width="0.8"/>
<text x="602" y="269.05" font-size="8" fill="#3a3a3a" text-anchor="end" textLength="4.45" lengthAdjust="spacingAndGlyphs">0</text>
<line x1="604.5" y1="251.7" x2="607.2" y2="251.7" stroke="#bdbdbd" stroke-width="0.8"/>
<text x="602" y="254.45" font-size="8" fill="#3a3a3a" text-anchor="end" textLength="8.9" lengthAdjust="spacingAndGlyphs">60</text>
<line x1="604.5" y1="237.1" x2="607.2" y2="237.1" stroke="#bdbdbd" stroke-width="0.8"/>
<text x="602" y="239.85" font-size="8" fill="#3a3a3a" text-anchor="end" textLength="12.85" lengthAdjust="spacingAndGlyphs">120</text>
<line x1="604.5" y1="222.51" x2="607.2" y2="222.51" stroke="#bdbdbd" stroke-width="0.8"/>
<text x="602" y="225.26" font-size="8" fill="#3a3a3a" text-anchor="end" textLength="12.85" lengthAdjust="spacingAndGlyphs">180</text>
<line x1="604.5" y1="207.91" x2="607.2" y2="207.91" stroke="#bdbdbd" stroke-width="0.8"/>
<text x="602" y="210.66" font-size="8" fill="#3a3a3a" text-anchor="end" textLength="13.35" lengthAdjust="spacingAndGlyphs">240</text>
<line x1="604.5" y1="193.31" x2="607.2" y2="193.31" stroke="#bdbdbd" stroke-width="0.8"/>
<text x="602" y="196.06" font-size="8" fill="#3a3a3a" text-anchor="end" textLength="13.35" lengthAdjust="spacingAndGlyphs">300</text>
<line x1="603.8" y1="266.3" x2="680.4" y2="266.3" stroke="#8a8a8a" stroke-width="0.8"/>
<rect x="612.2" y="215.7" width="8.9" height="50.6" fill="#c6c7c9"/>
<rect x="626.8" y="233.6" width="9.2" height="32.7" fill="#5fa3d6"/>
<rect x="651.3" y="248.1" width="9.2" height="18.2" fill="#c6c7c9"/>
<rect x="665.8" y="250.7" width="9.2" height="15.6" fill="#5fa3d6"/>
<line x1="655.9" y1="244.1" x2="655.9" y2="252.1" stroke="#555" stroke-width="0.7"/>
<line x1="654.2" y1="244.1" x2="657.6" y2="244.1" stroke="#555" stroke-width="0.7"/>
<line x1="654.2" y1="252.1" x2="657.6" y2="252.1" stroke="#555" stroke-width="0.7"/>
<line x1="670.4" y1="245.3" x2="670.4" y2="256.1" stroke="#555" stroke-width="0.7"/>
<line x1="668.7" y1="245.3" x2="672.1" y2="245.3" stroke="#555" stroke-width="0.7"/>
<line x1="668.7" y1="256.1" x2="672.1" y2="256.1" stroke="#555" stroke-width="0.7"/>
<line x1="631.4" y1="231.5" x2="631.4" y2="235.7" stroke="#555" stroke-width="0.7"/>
<line x1="629.7" y1="231.5" x2="633.1" y2="231.5" stroke="#555" stroke-width="0.7"/>
<line x1="629.7" y1="235.7" x2="633.1" y2="235.7" stroke="#555" stroke-width="0.7"/>
<circle cx="616.6" cy="199.6" r="1.65" fill="#141414"/>
<circle cx="616.6" cy="211.4" r="1.65" fill="#141414"/>
<circle cx="616.8" cy="217.9" r="1.65" fill="#141414"/>
<circle cx="619.2" cy="221.6" r="1.65" fill="#141414"/>
<circle cx="614.8" cy="224.6" r="1.65" fill="#141414"/>
<circle cx="629.5" cy="227.7" r="1.65" fill="#141414"/>
<circle cx="633.6" cy="230.2" r="1.65" fill="#141414"/>
<circle cx="629.5" cy="232.2" r="1.65" fill="#141414"/>
<circle cx="633.5" cy="236" r="1.65" fill="#141414"/>
<circle cx="629.5" cy="239.8" r="1.65" fill="#141414"/>
<circle cx="655.9" cy="239.9" r="1.65" fill="#141414"/>
<circle cx="655" cy="246.5" r="1.65" fill="#141414"/>
<circle cx="654.2" cy="252" r="1.65" fill="#141414"/>
<circle cx="658.8" cy="250.5" r="1.65" fill="#141414"/>
<circle cx="670.4" cy="235.2" r="1.65" fill="#141414"/>
<circle cx="666.8" cy="257.5" r="1.65" fill="#141414"/>
<circle cx="670.4" cy="254.9" r="1.65" fill="#141414"/>
<circle cx="672.4" cy="256.3" r="1.65" fill="#141414"/>
<text x="611.2" y="278.7" font-size="8.8" fill="#3a3a3a" font-style="italic" textLength="16.2" lengthAdjust="spacingAndGlyphs">Ckb</text>
<text x="627.6" y="275.2" font-size="5.8" fill="#3a3a3a" textLength="9.2" lengthAdjust="spacingAndGlyphs">fl/fl</text>
<text x="639.6" y="278.7" font-size="8.8" fill="#3a3a3a" font-style="italic" textLength="15.6" lengthAdjust="spacingAndGlyphs">Ckb</text>
<text x="655.8" y="275.2" font-size="5.8" fill="#3a3a3a" textLength="29.5" lengthAdjust="spacingAndGlyphs">AdipoqCre</text>
<rect x="570" y="274.2" width="6" height="5.3" fill="#c6c7c9"/>
<text x="578.3" y="279.7" font-size="8" fill="#3a3a3a" textLength="24.5" lengthAdjust="spacingAndGlyphs">Vehicle</text>
<rect x="570" y="285.3" width="6" height="5.3" fill="#5fa3d6"/>
<text x="578.3" y="289.9" font-size="8" fill="#3a3a3a" textLength="25.7" lengthAdjust="spacingAndGlyphs">SBI-425</text>
<text x="620.1" y="180.8" font-size="6.6" fill="#444" font-style="italic" textLength="3.96" lengthAdjust="spacingAndGlyphs">P</text>
<text x="624.19" y="180.8" font-size="6.6" fill="#444" textLength="24.41" lengthAdjust="spacingAndGlyphs">&#160;=&#160;3&#160;&#215;&#160;10</text>
<text x="648.8" y="177.6" font-size="4.49" fill="#444" textLength="4.8" lengthAdjust="spacingAndGlyphs">&#8722;5</text>
<path d="M617,184 V182.6 H656.6 V184" stroke="#262626" stroke-width="1.1" fill="none"/>
<text x="610.8" y="191.6" font-size="6.6" fill="#444" font-style="italic" textLength="3.96" lengthAdjust="spacingAndGlyphs">P</text>
<text x="614.89" y="191.6" font-size="6.6" fill="#444" textLength="23.91" lengthAdjust="spacingAndGlyphs">&#160;=&#160;3&#160;&#215;&#160;10</text>
<text x="639" y="188.4" font-size="4.49" fill="#444" textLength="4.8" lengthAdjust="spacingAndGlyphs">&#8722;3</text>
<path d="M617,195.2 V193.5 H632.7 V195.2" stroke="#262626" stroke-width="1.1" fill="none"/>
<text x="652" y="223.8" font-size="6.6" fill="#444" font-style="italic" textLength="3.96" lengthAdjust="spacingAndGlyphs">P</text>
<text x="656.09" y="223.8" font-size="6.6" fill="#444" textLength="19.71" lengthAdjust="spacingAndGlyphs">&#160;=&#160;0.64</text>
<path d="M656.3,228.8 V227.2 H672 V228.8" stroke="#262626" stroke-width="1.1" fill="none"/>
<text x="565.7" y="227.9" font-size="7" fill="#3a3a3a" text-anchor="middle" transform="rotate(-90 565.7 227.9)" textLength="49" lengthAdjust="spacingAndGlyphs">NA-dependent</text>
<text font-size="7" fill="#3a3a3a" text-anchor="middle" transform="translate(575.6 227.9) rotate(-90)" textLength="71.3" lengthAdjust="spacingAndGlyphs">O<tspan font-size="4.34" dy="1.6">2</tspan><tspan dy="-1.6"> consumption rate</tspan></text>
<text font-size="7.9" fill="#3a3a3a" text-anchor="middle" transform="translate(585.3 227.9) rotate(-90)" textLength="80.9" lengthAdjust="spacingAndGlyphs">(nmol min<tspan font-size="4.9" dy="-2.6">&#8722;1</tspan><tspan dy="2.6">/10</tspan><tspan font-size="4.9" dy="-2.6">6</tspan><tspan dy="2.6"> cells)</tspan></text>
</svg>
</body></html>
